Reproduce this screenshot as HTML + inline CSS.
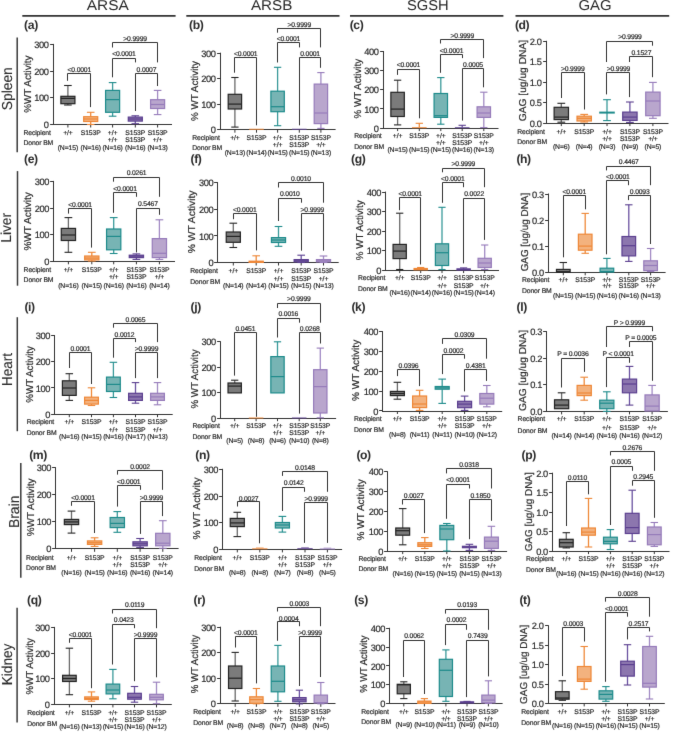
<!DOCTYPE html><html><head><meta charset="utf-8"><style>
html,body{margin:0;padding:0;background:#fff;}
svg{display:block;} text{font-family:"Liberation Sans",sans-serif;text-rendering:geometricPrecision;fill:#2b2b2b;stroke:#2b2b2b;stroke-width:0.2px;}
</style></head><body>
<svg width="685" height="734" viewBox="0 0 685 734">
<defs><filter id="bl" x="0" y="0" width="685" height="734" filterUnits="userSpaceOnUse" color-interpolation-filters="sRGB"><feConvolveMatrix order="3" kernelMatrix="0.00524 0.06192 0.00524 0.06192 0.73137 0.06192 0.00524 0.06192 0.00524" divisor="1" edgeMode="duplicate"/></filter></defs>
<g filter="url(#bl)">
<rect width="685" height="734" fill="#fff"/>
<text x="107.75" y="9.9" font-size="14.3" text-anchor="middle" textLength="42.1" lengthAdjust="spacingAndGlyphs" style="stroke-width:0.0px">ARSA</text>
<line x1="22.3" y1="15.9" x2="175.6" y2="15.9" stroke="#333333" stroke-width="1.9"/>
<text x="271.6" y="9.9" font-size="14.3" text-anchor="middle" textLength="41.4" lengthAdjust="spacingAndGlyphs" style="stroke-width:0.0px">ARSB</text>
<line x1="186.3" y1="15.9" x2="339.5" y2="15.9" stroke="#333333" stroke-width="1.9"/>
<text x="427.8" y="9.9" font-size="14.3" text-anchor="middle" textLength="41.8" lengthAdjust="spacingAndGlyphs" style="stroke-width:0.0px">SGSH</text>
<line x1="350" y1="15.9" x2="503.4" y2="15.9" stroke="#333333" stroke-width="1.9"/>
<text x="595" y="9.9" font-size="14.3" text-anchor="middle" textLength="33.2" lengthAdjust="spacingAndGlyphs" style="stroke-width:0.0px">GAG</text>
<line x1="515.5" y1="15.9" x2="669.2" y2="15.9" stroke="#333333" stroke-width="1.9"/>
<text transform="translate(11.7,88.75) rotate(-90)" x="0" y="0" font-size="14.4" text-anchor="middle" style="stroke-width:0.1px" textLength="43.1" lengthAdjust="spacingAndGlyphs">Spleen</text>
<line x1="17.2" y1="37.5" x2="17.2" y2="152.2" stroke="#3a3a3a" stroke-width="1.5"/>
<text transform="translate(10.6,227.85) rotate(-90)" x="0" y="0" font-size="14.4" text-anchor="middle" style="stroke-width:0.1px" textLength="29.7" lengthAdjust="spacingAndGlyphs">Liver</text>
<line x1="17.5" y1="171.1" x2="17.5" y2="285.7" stroke="#3a3a3a" stroke-width="1.5"/>
<text transform="translate(11.9,369.55) rotate(-90)" x="0" y="0" font-size="14.4" text-anchor="middle" style="stroke-width:0.1px" textLength="32.9" lengthAdjust="spacingAndGlyphs">Heart</text>
<line x1="17.3" y1="317.2" x2="17.3" y2="431.2" stroke="#3a3a3a" stroke-width="1.5"/>
<text transform="translate(18.8,511.85) rotate(-90)" x="0" y="0" font-size="14.4" text-anchor="middle" style="stroke-width:0.1px" textLength="32.5" lengthAdjust="spacingAndGlyphs">Brain</text>
<line x1="20.8" y1="463.1" x2="20.8" y2="577.7" stroke="#3a3a3a" stroke-width="1.5"/>
<text transform="translate(11.6,664.45) rotate(-90)" x="0" y="0" font-size="14.4" text-anchor="middle" style="stroke-width:0.1px" textLength="41.7" lengthAdjust="spacingAndGlyphs">Kidney</text>
<line x1="17.1" y1="607.8" x2="17.1" y2="722.5" stroke="#3a3a3a" stroke-width="1.5"/>
<text x="24.1" y="29.26" font-size="12.2" text-anchor="start" font-weight="bold" letter-spacing="-0.4" style="stroke-width:0.0px">(a)</text>
<line x1="53.5" y1="43.9" x2="53.5" y2="125" stroke="#333333" stroke-width="1.0"/>
<line x1="50.1" y1="44.5" x2="53.5" y2="44.5" stroke="#333333" stroke-width="1.0"/>
<text x="48.4" y="48" font-size="9.3" text-anchor="end" letter-spacing="-0.43">300</text>
<line x1="50.1" y1="71.5" x2="53.5" y2="71.5" stroke="#333333" stroke-width="1.0"/>
<text x="48.4" y="74.7" font-size="9.3" text-anchor="end" letter-spacing="-0.43">200</text>
<line x1="50.1" y1="97.5" x2="53.5" y2="97.5" stroke="#333333" stroke-width="1.0"/>
<text x="48.4" y="101.4" font-size="9.3" text-anchor="end" letter-spacing="-0.43">100</text>
<line x1="50.1" y1="124.5" x2="53.5" y2="124.5" stroke="#333333" stroke-width="1.0"/>
<text x="48.4" y="128.1" font-size="9.3" text-anchor="end" letter-spacing="-0.43">0</text>
<line x1="53" y1="124.5" x2="172" y2="124.5" stroke="#333333" stroke-width="1.0"/>
<line x1="67.9" y1="124.5" x2="67.9" y2="127.5" stroke="#333333" stroke-width="1.0"/>
<line x1="90.7" y1="124.5" x2="90.7" y2="127.5" stroke="#333333" stroke-width="1.0"/>
<line x1="112.6" y1="124.5" x2="112.6" y2="127.5" stroke="#333333" stroke-width="1.0"/>
<line x1="135.3" y1="124.5" x2="135.3" y2="127.5" stroke="#333333" stroke-width="1.0"/>
<line x1="157.6" y1="124.5" x2="157.6" y2="127.5" stroke="#333333" stroke-width="1.0"/>
<text transform="translate(31,84.1) rotate(-90)" x="0" y="0" font-size="10.0" text-anchor="middle" textLength="57.2" lengthAdjust="spacingAndGlyphs">%WT Activity</text>
<line x1="67.9" y1="85.5" x2="67.9" y2="96.3" stroke="#6a6a6a" stroke-width="1.3"/>
<line x1="64.09" y1="85.5" x2="71.71" y2="85.5" stroke="#232323" stroke-width="1.1"/>
<line x1="67.9" y1="103.7" x2="67.9" y2="105" stroke="#6a6a6a" stroke-width="1.3"/>
<line x1="64.09" y1="105" x2="71.71" y2="105" stroke="#232323" stroke-width="1.1"/>
<rect x="60.88" y="96.3" width="14.05" height="7.4" fill="#7b7b7b" stroke="#232323" stroke-width="1.2"/>
<line x1="60.88" y1="98.4" x2="74.92" y2="98.4" stroke="#232323" stroke-width="1.2"/>
<line x1="90.7" y1="112.3" x2="90.7" y2="116.7" stroke="#ef8a3a" stroke-width="1.3"/>
<line x1="86.89" y1="112.3" x2="94.51" y2="112.3" stroke="#ee8737" stroke-width="1.1"/>
<line x1="90.7" y1="121.5" x2="90.7" y2="124.5" stroke="#ef8a3a" stroke-width="1.3"/>
<line x1="86.89" y1="124.5" x2="94.51" y2="124.5" stroke="#ee8737" stroke-width="1.1"/>
<rect x="83.68" y="116.7" width="14.05" height="4.8" fill="#f3b27e" stroke="#ee8737" stroke-width="1.2"/>
<line x1="83.68" y1="119" x2="97.72" y2="119" stroke="#ee8737" stroke-width="1.2"/>
<line x1="112.6" y1="82.6" x2="112.6" y2="90.4" stroke="#3a9a9a" stroke-width="1.3"/>
<line x1="108.79" y1="82.6" x2="116.41" y2="82.6" stroke="#1d8b8b" stroke-width="1.1"/>
<line x1="112.6" y1="112.3" x2="112.6" y2="116.2" stroke="#3a9a9a" stroke-width="1.3"/>
<line x1="108.79" y1="116.2" x2="116.41" y2="116.2" stroke="#1d8b8b" stroke-width="1.1"/>
<rect x="105.58" y="90.4" width="14.05" height="21.9" fill="#77b4b4" stroke="#1d8b8b" stroke-width="1.2"/>
<line x1="105.58" y1="99.6" x2="119.62" y2="99.6" stroke="#1d8b8b" stroke-width="1.2"/>
<line x1="135.3" y1="115.8" x2="135.3" y2="117.1" stroke="#6a52a0" stroke-width="1.3"/>
<line x1="131.49" y1="115.8" x2="139.11" y2="115.8" stroke="#5b3f8f" stroke-width="1.1"/>
<line x1="135.3" y1="121.1" x2="135.3" y2="123.7" stroke="#6a52a0" stroke-width="1.3"/>
<line x1="131.49" y1="123.7" x2="139.11" y2="123.7" stroke="#5b3f8f" stroke-width="1.1"/>
<rect x="128.28" y="117.1" width="14.05" height="4" fill="#8c76ae" stroke="#5b3f8f" stroke-width="1.2"/>
<line x1="128.28" y1="119" x2="142.32" y2="119" stroke="#5b3f8f" stroke-width="1.2"/>
<line x1="157.6" y1="90.4" x2="157.6" y2="99.7" stroke="#a28bc4" stroke-width="1.3"/>
<line x1="153.79" y1="90.4" x2="161.41" y2="90.4" stroke="#967bba" stroke-width="1.1"/>
<line x1="157.6" y1="108.5" x2="157.6" y2="114.6" stroke="#a28bc4" stroke-width="1.3"/>
<line x1="153.79" y1="114.6" x2="161.41" y2="114.6" stroke="#967bba" stroke-width="1.1"/>
<rect x="150.58" y="99.7" width="14.05" height="8.8" fill="#b9a6cd" stroke="#967bba" stroke-width="1.2"/>
<line x1="150.58" y1="104.5" x2="164.62" y2="104.5" stroke="#967bba" stroke-width="1.2"/>
<path d="M67.5,80.8 V73.5 H90.5 V107.1" fill="none" stroke="#333333" stroke-width="1"/>
<text x="79.3" y="71.75" font-size="6.8" text-anchor="middle" letter-spacing="-0.17" style="stroke-width:0.2px">&lt;0.0001</text>
<path d="M112.5,77.3 V58.5 H135.5 V62.4" fill="none" stroke="#333333" stroke-width="1"/>
<text x="123.95" y="56.15" font-size="6.8" text-anchor="middle" letter-spacing="-0.17" style="stroke-width:0.2px">&lt;0.0001</text>
<path d="M135.5,111 V73.5 H157.5 V86" fill="none" stroke="#333333" stroke-width="1"/>
<text x="146.45" y="71.75" font-size="6.8" text-anchor="middle" letter-spacing="-0.17" style="stroke-width:0.2px">0.0007</text>
<path d="M112.5,47.5 V42.5 H157.5 V62.4" fill="none" stroke="#333333" stroke-width="1"/>
<text x="135.1" y="40.75" font-size="6.8" text-anchor="middle" letter-spacing="-0.17" style="stroke-width:0.2px">&gt;0.9999</text>
<text x="23.4" y="134.8" font-size="6.8" text-anchor="start" letter-spacing="-0.1" style="stroke-width:0.2px">Recipient</text>
<text x="23.4" y="144.9" font-size="6.8" text-anchor="start" letter-spacing="-0.1" style="stroke-width:0.2px">Donor BM</text>
<text x="67.9" y="134.8" font-size="6.8" text-anchor="middle" letter-spacing="-0.1" style="stroke-width:0.2px">+/+</text>
<text x="67.9" y="149.5" font-size="6.8" text-anchor="middle" letter-spacing="-0.1" style="stroke-width:0.2px">(N=15)</text>
<text x="90.7" y="134.8" font-size="6.8" text-anchor="middle" letter-spacing="-0.1" style="stroke-width:0.2px">S153P</text>
<text x="90.7" y="149.5" font-size="6.8" text-anchor="middle" letter-spacing="-0.1" style="stroke-width:0.2px">(N=16)</text>
<text x="112.6" y="134.8" font-size="6.8" text-anchor="middle" letter-spacing="-0.1" style="stroke-width:0.2px">+/+</text>
<text x="112.6" y="142" font-size="6.8" text-anchor="middle" letter-spacing="-0.1" style="stroke-width:0.2px">+/+</text>
<text x="112.6" y="149.5" font-size="6.8" text-anchor="middle" letter-spacing="-0.1" style="stroke-width:0.2px">(N=16)</text>
<text x="135.3" y="134.8" font-size="6.8" text-anchor="middle" letter-spacing="-0.1" style="stroke-width:0.2px">S153P</text>
<text x="135.3" y="142" font-size="6.8" text-anchor="middle" letter-spacing="-0.1" style="stroke-width:0.2px">S153P</text>
<text x="135.3" y="149.5" font-size="6.8" text-anchor="middle" letter-spacing="-0.1" style="stroke-width:0.2px">(N=16)</text>
<text x="157.6" y="134.8" font-size="6.8" text-anchor="middle" letter-spacing="-0.1" style="stroke-width:0.2px">S153P</text>
<text x="157.6" y="142" font-size="6.8" text-anchor="middle" letter-spacing="-0.1" style="stroke-width:0.2px">+/+</text>
<text x="157.6" y="149.5" font-size="6.8" text-anchor="middle" letter-spacing="-0.1" style="stroke-width:0.2px">(N=13)</text>
<text x="189.1" y="29.26" font-size="12.2" text-anchor="start" font-weight="bold" letter-spacing="-0.4" style="stroke-width:0.0px">(b)</text>
<line x1="220.5" y1="52.7" x2="220.5" y2="130" stroke="#333333" stroke-width="1.0"/>
<line x1="217.1" y1="53.5" x2="220.5" y2="53.5" stroke="#333333" stroke-width="1.0"/>
<text x="215.6" y="56.8" font-size="9.3" text-anchor="end" letter-spacing="-0.43">300</text>
<line x1="217.1" y1="78.5" x2="220.5" y2="78.5" stroke="#333333" stroke-width="1.0"/>
<text x="215.6" y="82.3" font-size="9.3" text-anchor="end" letter-spacing="-0.43">200</text>
<line x1="217.1" y1="104.5" x2="220.5" y2="104.5" stroke="#333333" stroke-width="1.0"/>
<text x="215.6" y="107.8" font-size="9.3" text-anchor="end" letter-spacing="-0.43">100</text>
<line x1="217.1" y1="129.5" x2="220.5" y2="129.5" stroke="#333333" stroke-width="1.0"/>
<text x="215.6" y="133.3" font-size="9.3" text-anchor="end" letter-spacing="-0.43">0</text>
<line x1="220" y1="129.5" x2="335.6" y2="129.5" stroke="#333333" stroke-width="1.0"/>
<line x1="234.9" y1="129.7" x2="234.9" y2="132.7" stroke="#333333" stroke-width="1.0"/>
<line x1="256.5" y1="129.7" x2="256.5" y2="132.7" stroke="#333333" stroke-width="1.0"/>
<line x1="277.6" y1="129.7" x2="277.6" y2="132.7" stroke="#333333" stroke-width="1.0"/>
<line x1="299.3" y1="129.7" x2="299.3" y2="132.7" stroke="#333333" stroke-width="1.0"/>
<line x1="320.9" y1="129.7" x2="320.9" y2="132.7" stroke="#333333" stroke-width="1.0"/>
<text transform="translate(197.9,91) rotate(-90)" x="0" y="0" font-size="10.0" text-anchor="middle" textLength="60" lengthAdjust="spacingAndGlyphs">% WT Activity</text>
<line x1="234.9" y1="77.5" x2="234.9" y2="94.3" stroke="#6a6a6a" stroke-width="1.3"/>
<line x1="231.25" y1="77.5" x2="238.56" y2="77.5" stroke="#232323" stroke-width="1.1"/>
<line x1="234.9" y1="109" x2="234.9" y2="127.1" stroke="#6a6a6a" stroke-width="1.3"/>
<line x1="231.25" y1="127.1" x2="238.56" y2="127.1" stroke="#232323" stroke-width="1.1"/>
<rect x="228.19" y="94.3" width="13.42" height="14.7" fill="#7b7b7b" stroke="#232323" stroke-width="1.2"/>
<line x1="228.19" y1="104.1" x2="241.61" y2="104.1" stroke="#232323" stroke-width="1.2"/>
<rect x="249.19" y="128.7" width="14.62" height="1.2" fill="#ee8737" opacity="0.8"/>
<line x1="277.6" y1="67.3" x2="277.6" y2="91.2" stroke="#3a9a9a" stroke-width="1.3"/>
<line x1="273.95" y1="67.3" x2="281.25" y2="67.3" stroke="#1d8b8b" stroke-width="1.1"/>
<line x1="277.6" y1="111.7" x2="277.6" y2="125.7" stroke="#3a9a9a" stroke-width="1.3"/>
<line x1="273.95" y1="125.7" x2="281.25" y2="125.7" stroke="#1d8b8b" stroke-width="1.1"/>
<rect x="270.89" y="91.2" width="13.42" height="20.5" fill="#77b4b4" stroke="#1d8b8b" stroke-width="1.2"/>
<line x1="270.89" y1="106.7" x2="284.31" y2="106.7" stroke="#1d8b8b" stroke-width="1.2"/>
<rect x="291.99" y="128.7" width="14.62" height="1.2" fill="#5b3f8f" opacity="0.8"/>
<line x1="320.9" y1="72.6" x2="320.9" y2="84.1" stroke="#a28bc4" stroke-width="1.3"/>
<line x1="317.25" y1="72.6" x2="324.55" y2="72.6" stroke="#967bba" stroke-width="1.1"/>
<line x1="320.9" y1="123.6" x2="320.9" y2="128.4" stroke="#a28bc4" stroke-width="1.3"/>
<line x1="317.25" y1="128.4" x2="324.55" y2="128.4" stroke="#967bba" stroke-width="1.1"/>
<rect x="314.19" y="84.1" width="13.42" height="39.5" fill="#b9a6cd" stroke="#967bba" stroke-width="1.2"/>
<line x1="314.19" y1="113" x2="327.61" y2="113" stroke="#967bba" stroke-width="1.2"/>
<path d="M234.5,72.7 V57.5 H256.5 V125.3" fill="none" stroke="#333333" stroke-width="1"/>
<text x="245.7" y="56.45" font-size="6.8" text-anchor="middle" letter-spacing="-0.17" style="stroke-width:0.2px">&lt;0.0001</text>
<path d="M277.5,62.5 V42.5 H299.5 V47.4" fill="none" stroke="#333333" stroke-width="1"/>
<text x="288.45" y="41.45" font-size="6.8" text-anchor="middle" letter-spacing="-0.17" style="stroke-width:0.2px">&lt;0.0001</text>
<path d="M299.5,125.3 V57.5 H320.5 V67.8" fill="none" stroke="#333333" stroke-width="1"/>
<text x="310.1" y="56.15" font-size="6.8" text-anchor="middle" letter-spacing="-0.17" style="stroke-width:0.2px">0.0001</text>
<path d="M277.5,32.7 V28.5 H320.5 V47.4" fill="none" stroke="#333333" stroke-width="1"/>
<text x="299.25" y="26.75" font-size="6.8" text-anchor="middle" letter-spacing="-0.17" style="stroke-width:0.2px">&gt;0.9999</text>
<text x="192.3" y="139.5" font-size="6.8" text-anchor="start" letter-spacing="-0.1" style="stroke-width:0.2px">Recipient</text>
<text x="192.3" y="149.9" font-size="6.8" text-anchor="start" letter-spacing="-0.1" style="stroke-width:0.2px">Donor BM</text>
<text x="234.9" y="139.5" font-size="6.8" text-anchor="middle" letter-spacing="-0.1" style="stroke-width:0.2px">+/+</text>
<text x="234.9" y="155.3" font-size="6.8" text-anchor="middle" letter-spacing="-0.1" style="stroke-width:0.2px">(N=13)</text>
<text x="256.5" y="139.5" font-size="6.8" text-anchor="middle" letter-spacing="-0.1" style="stroke-width:0.2px">S153P</text>
<text x="256.5" y="155.3" font-size="6.8" text-anchor="middle" letter-spacing="-0.1" style="stroke-width:0.2px">(N=14)</text>
<text x="277.6" y="139.5" font-size="6.8" text-anchor="middle" letter-spacing="-0.1" style="stroke-width:0.2px">+/+</text>
<text x="277.6" y="147" font-size="6.8" text-anchor="middle" letter-spacing="-0.1" style="stroke-width:0.2px">+/+</text>
<text x="277.6" y="155.3" font-size="6.8" text-anchor="middle" letter-spacing="-0.1" style="stroke-width:0.2px">(N=15)</text>
<text x="299.3" y="139.5" font-size="6.8" text-anchor="middle" letter-spacing="-0.1" style="stroke-width:0.2px">S153P</text>
<text x="299.3" y="147" font-size="6.8" text-anchor="middle" letter-spacing="-0.1" style="stroke-width:0.2px">S153P</text>
<text x="299.3" y="155.3" font-size="6.8" text-anchor="middle" letter-spacing="-0.1" style="stroke-width:0.2px">(N=15)</text>
<text x="320.9" y="139.5" font-size="6.8" text-anchor="middle" letter-spacing="-0.1" style="stroke-width:0.2px">S153P</text>
<text x="320.9" y="147" font-size="6.8" text-anchor="middle" letter-spacing="-0.1" style="stroke-width:0.2px">+/+</text>
<text x="320.9" y="155.3" font-size="6.8" text-anchor="middle" letter-spacing="-0.1" style="stroke-width:0.2px">(N=13)</text>
<text x="349.7" y="29.16" font-size="12.2" text-anchor="start" font-weight="bold" letter-spacing="-0.4" style="stroke-width:0.0px">(c)</text>
<line x1="383.5" y1="51" x2="383.5" y2="129" stroke="#333333" stroke-width="1.0"/>
<line x1="380.1" y1="51.5" x2="383.5" y2="51.5" stroke="#333333" stroke-width="1.0"/>
<text x="378.5" y="55.1" font-size="9.3" text-anchor="end" letter-spacing="-0.43">400</text>
<line x1="380.1" y1="70.5" x2="383.5" y2="70.5" stroke="#333333" stroke-width="1.0"/>
<text x="378.5" y="74.3" font-size="9.3" text-anchor="end" letter-spacing="-0.43">300</text>
<line x1="380.1" y1="89.5" x2="383.5" y2="89.5" stroke="#333333" stroke-width="1.0"/>
<text x="378.5" y="93.4" font-size="9.3" text-anchor="end" letter-spacing="-0.43">200</text>
<line x1="380.1" y1="108.5" x2="383.5" y2="108.5" stroke="#333333" stroke-width="1.0"/>
<text x="378.5" y="112.6" font-size="9.3" text-anchor="end" letter-spacing="-0.43">100</text>
<line x1="380.1" y1="128.5" x2="383.5" y2="128.5" stroke="#333333" stroke-width="1.0"/>
<text x="378.5" y="131.7" font-size="9.3" text-anchor="end" letter-spacing="-0.43">0</text>
<line x1="383" y1="128.5" x2="498.5" y2="128.5" stroke="#333333" stroke-width="1.0"/>
<line x1="397.6" y1="128.1" x2="397.6" y2="131.1" stroke="#333333" stroke-width="1.0"/>
<line x1="419.3" y1="128.1" x2="419.3" y2="131.1" stroke="#333333" stroke-width="1.0"/>
<line x1="440.8" y1="128.1" x2="440.8" y2="131.1" stroke="#333333" stroke-width="1.0"/>
<line x1="462.2" y1="128.1" x2="462.2" y2="131.1" stroke="#333333" stroke-width="1.0"/>
<line x1="483.8" y1="128.1" x2="483.8" y2="131.1" stroke="#333333" stroke-width="1.0"/>
<text transform="translate(361.1,88.7) rotate(-90)" x="0" y="0" font-size="10.0" text-anchor="middle" textLength="59.5" lengthAdjust="spacingAndGlyphs">% WT Activity</text>
<line x1="397.6" y1="80.2" x2="397.6" y2="92.3" stroke="#6a6a6a" stroke-width="1.3"/>
<line x1="393.94" y1="80.2" x2="401.26" y2="80.2" stroke="#232323" stroke-width="1.1"/>
<line x1="397.6" y1="116.5" x2="397.6" y2="124.9" stroke="#6a6a6a" stroke-width="1.3"/>
<line x1="393.94" y1="124.9" x2="401.26" y2="124.9" stroke="#232323" stroke-width="1.1"/>
<rect x="390.87" y="92.3" width="13.45" height="24.2" fill="#7b7b7b" stroke="#232323" stroke-width="1.2"/>
<line x1="390.87" y1="109.1" x2="404.33" y2="109.1" stroke="#232323" stroke-width="1.2"/>
<line x1="419.3" y1="123.3" x2="419.3" y2="127.3" stroke="#ef8a3a" stroke-width="1.3"/>
<line x1="415.64" y1="123.3" x2="422.96" y2="123.3" stroke="#ee8737" stroke-width="1.1"/>
<rect x="411.97" y="127.05" width="14.65" height="1.2" fill="#ee8737" opacity="0.85"/>
<line x1="440.8" y1="77.6" x2="440.8" y2="93.5" stroke="#3a9a9a" stroke-width="1.3"/>
<line x1="437.14" y1="77.6" x2="444.46" y2="77.6" stroke="#1d8b8b" stroke-width="1.1"/>
<line x1="440.8" y1="117.4" x2="440.8" y2="124.2" stroke="#3a9a9a" stroke-width="1.3"/>
<line x1="437.14" y1="124.2" x2="444.46" y2="124.2" stroke="#1d8b8b" stroke-width="1.1"/>
<rect x="434.07" y="93.5" width="13.45" height="23.9" fill="#77b4b4" stroke="#1d8b8b" stroke-width="1.2"/>
<line x1="434.07" y1="115.7" x2="447.53" y2="115.7" stroke="#1d8b8b" stroke-width="1.2"/>
<line x1="462.2" y1="125.3" x2="462.2" y2="127.4" stroke="#6a52a0" stroke-width="1.3"/>
<line x1="458.54" y1="125.3" x2="465.86" y2="125.3" stroke="#5b3f8f" stroke-width="1.1"/>
<rect x="454.87" y="127.1" width="14.65" height="1.2" fill="#5b3f8f" opacity="0.85"/>
<line x1="483.8" y1="92.2" x2="483.8" y2="106.8" stroke="#a28bc4" stroke-width="1.3"/>
<line x1="480.14" y1="92.2" x2="487.46" y2="92.2" stroke="#967bba" stroke-width="1.1"/>
<line x1="483.8" y1="117.4" x2="483.8" y2="127.6" stroke="#a28bc4" stroke-width="1.3"/>
<line x1="480.14" y1="127.6" x2="487.46" y2="127.6" stroke="#967bba" stroke-width="1.1"/>
<rect x="477.07" y="106.8" width="13.45" height="10.6" fill="#b9a6cd" stroke="#967bba" stroke-width="1.2"/>
<line x1="477.07" y1="113" x2="490.53" y2="113" stroke="#967bba" stroke-width="1.2"/>
<path d="M397.5,74.9 V69.5 H419.5 V118.3" fill="none" stroke="#333333" stroke-width="1"/>
<text x="408.45" y="67.45" font-size="6.8" text-anchor="middle" letter-spacing="-0.17" style="stroke-width:0.2px">&lt;0.0001</text>
<path d="M440.5,72.8 V54.5 H462.5 V58.1" fill="none" stroke="#333333" stroke-width="1"/>
<text x="451.5" y="52.55" font-size="6.8" text-anchor="middle" letter-spacing="-0.17" style="stroke-width:0.2px">&lt;0.0001</text>
<path d="M462.5,120.6 V68.5 H483.5 V87.3" fill="none" stroke="#333333" stroke-width="1"/>
<text x="473" y="67.45" font-size="6.8" text-anchor="middle" letter-spacing="-0.17" style="stroke-width:0.2px">0.0005</text>
<path d="M440.5,43.5 V39.5 H483.5 V58.1" fill="none" stroke="#333333" stroke-width="1"/>
<text x="462.3" y="37.85" font-size="6.8" text-anchor="middle" letter-spacing="-0.17" style="stroke-width:0.2px">&gt;0.9999</text>
<text x="354.2" y="137.8" font-size="6.8" text-anchor="start" letter-spacing="-0.1" style="stroke-width:0.2px">Recipient</text>
<text x="354.2" y="148.5" font-size="6.8" text-anchor="start" letter-spacing="-0.1" style="stroke-width:0.2px">Donor BM</text>
<text x="397.6" y="137.8" font-size="6.8" text-anchor="middle" letter-spacing="-0.1" style="stroke-width:0.2px">+/+</text>
<text x="397.6" y="151.8" font-size="6.8" text-anchor="middle" letter-spacing="-0.1" style="stroke-width:0.2px">(N=15)</text>
<text x="419.3" y="137.8" font-size="6.8" text-anchor="middle" letter-spacing="-0.1" style="stroke-width:0.2px">S153P</text>
<text x="419.3" y="151.8" font-size="6.8" text-anchor="middle" letter-spacing="-0.1" style="stroke-width:0.2px">(N=15)</text>
<text x="440.8" y="137.8" font-size="6.8" text-anchor="middle" letter-spacing="-0.1" style="stroke-width:0.2px">+/+</text>
<text x="440.8" y="144.8" font-size="6.8" text-anchor="middle" letter-spacing="-0.1" style="stroke-width:0.2px">+/+</text>
<text x="440.8" y="151.8" font-size="6.8" text-anchor="middle" letter-spacing="-0.1" style="stroke-width:0.2px">(N=15)</text>
<text x="462.2" y="137.8" font-size="6.8" text-anchor="middle" letter-spacing="-0.1" style="stroke-width:0.2px">S153P</text>
<text x="462.2" y="144.8" font-size="6.8" text-anchor="middle" letter-spacing="-0.1" style="stroke-width:0.2px">S153P</text>
<text x="462.2" y="151.8" font-size="6.8" text-anchor="middle" letter-spacing="-0.1" style="stroke-width:0.2px">(N=16)</text>
<text x="483.8" y="137.8" font-size="6.8" text-anchor="middle" letter-spacing="-0.1" style="stroke-width:0.2px">S153P</text>
<text x="483.8" y="144.8" font-size="6.8" text-anchor="middle" letter-spacing="-0.1" style="stroke-width:0.2px">+/+</text>
<text x="483.8" y="151.8" font-size="6.8" text-anchor="middle" letter-spacing="-0.1" style="stroke-width:0.2px">(N=13)</text>
<text x="514.9" y="29.16" font-size="12.2" text-anchor="start" font-weight="bold" letter-spacing="-0.4" style="stroke-width:0.0px">(d)</text>
<line x1="546.5" y1="40.8" x2="546.5" y2="124" stroke="#333333" stroke-width="1.0"/>
<line x1="543.1" y1="41.5" x2="546.5" y2="41.5" stroke="#333333" stroke-width="1.0"/>
<text x="541.5" y="44.9" font-size="9.3" text-anchor="end" letter-spacing="-0.43">2.0</text>
<line x1="543.1" y1="61.5" x2="546.5" y2="61.5" stroke="#333333" stroke-width="1.0"/>
<text x="541.5" y="65.4" font-size="9.3" text-anchor="end" letter-spacing="-0.43">1.5</text>
<line x1="543.1" y1="82.5" x2="546.5" y2="82.5" stroke="#333333" stroke-width="1.0"/>
<text x="541.5" y="85.8" font-size="9.3" text-anchor="end" letter-spacing="-0.43">1.0</text>
<line x1="543.1" y1="102.5" x2="546.5" y2="102.5" stroke="#333333" stroke-width="1.0"/>
<text x="541.5" y="106.3" font-size="9.3" text-anchor="end" letter-spacing="-0.43">0.5</text>
<line x1="543.1" y1="123.5" x2="546.5" y2="123.5" stroke="#333333" stroke-width="1.0"/>
<text x="541.5" y="126.7" font-size="9.3" text-anchor="end" letter-spacing="-0.43">0.0</text>
<line x1="546" y1="123.5" x2="668.5" y2="123.5" stroke="#333333" stroke-width="1.0"/>
<line x1="561.3" y1="123.1" x2="561.3" y2="126.1" stroke="#333333" stroke-width="1.0"/>
<line x1="584.2" y1="123.1" x2="584.2" y2="126.1" stroke="#333333" stroke-width="1.0"/>
<line x1="607" y1="123.1" x2="607" y2="126.1" stroke="#333333" stroke-width="1.0"/>
<line x1="629.9" y1="123.1" x2="629.9" y2="126.1" stroke="#333333" stroke-width="1.0"/>
<line x1="652.9" y1="123.1" x2="652.9" y2="126.1" stroke="#333333" stroke-width="1.0"/>
<text transform="translate(525.5,80.6) rotate(-90)" x="0" y="0" font-size="10.0" text-anchor="middle" textLength="81.5" lengthAdjust="spacingAndGlyphs">GAG [ug/ug DNA]</text>
<line x1="561.3" y1="103.3" x2="561.3" y2="107.3" stroke="#6a6a6a" stroke-width="1.3"/>
<line x1="557.41" y1="103.3" x2="565.19" y2="103.3" stroke="#232323" stroke-width="1.1"/>
<line x1="561.3" y1="119.6" x2="561.3" y2="122.2" stroke="#6a6a6a" stroke-width="1.3"/>
<line x1="557.41" y1="122.2" x2="565.19" y2="122.2" stroke="#232323" stroke-width="1.1"/>
<rect x="554.11" y="107.3" width="14.37" height="12.3" fill="#7b7b7b" stroke="#232323" stroke-width="1.2"/>
<line x1="554.11" y1="117.1" x2="568.49" y2="117.1" stroke="#232323" stroke-width="1.2"/>
<line x1="584.2" y1="114.4" x2="584.2" y2="116.2" stroke="#ef8a3a" stroke-width="1.3"/>
<line x1="580.31" y1="114.4" x2="588.09" y2="114.4" stroke="#ee8737" stroke-width="1.1"/>
<line x1="584.2" y1="121" x2="584.2" y2="122" stroke="#ef8a3a" stroke-width="1.3"/>
<line x1="580.31" y1="122" x2="588.09" y2="122" stroke="#ee8737" stroke-width="1.1"/>
<rect x="577.01" y="116.2" width="14.37" height="4.8" fill="#f3b27e" stroke="#ee8737" stroke-width="1.2"/>
<line x1="577.01" y1="118.3" x2="591.39" y2="118.3" stroke="#ee8737" stroke-width="1.2"/>
<line x1="607" y1="99.7" x2="607" y2="112.6" stroke="#3a9a9a" stroke-width="1.3"/>
<line x1="603.11" y1="99.7" x2="610.89" y2="99.7" stroke="#1d8b8b" stroke-width="1.1"/>
<line x1="607" y1="112.6" x2="607" y2="120.6" stroke="#3a9a9a" stroke-width="1.3"/>
<line x1="603.11" y1="120.6" x2="610.89" y2="120.6" stroke="#1d8b8b" stroke-width="1.1"/>
<line x1="599.21" y1="112.6" x2="614.79" y2="112.6" stroke="#1d8b8b" stroke-width="2.0"/>
<line x1="629.9" y1="102" x2="629.9" y2="112.1" stroke="#6a52a0" stroke-width="1.3"/>
<line x1="626.01" y1="102" x2="633.79" y2="102" stroke="#5b3f8f" stroke-width="1.1"/>
<line x1="629.9" y1="120.4" x2="629.9" y2="122.4" stroke="#6a52a0" stroke-width="1.3"/>
<line x1="626.01" y1="122.4" x2="633.79" y2="122.4" stroke="#5b3f8f" stroke-width="1.1"/>
<rect x="622.71" y="112.1" width="14.37" height="8.3" fill="#8c76ae" stroke="#5b3f8f" stroke-width="1.2"/>
<line x1="622.71" y1="117.1" x2="637.09" y2="117.1" stroke="#5b3f8f" stroke-width="1.2"/>
<line x1="652.9" y1="82.4" x2="652.9" y2="92.1" stroke="#a28bc4" stroke-width="1.3"/>
<line x1="649.01" y1="82.4" x2="656.79" y2="82.4" stroke="#967bba" stroke-width="1.1"/>
<line x1="652.9" y1="115.7" x2="652.9" y2="118.3" stroke="#a28bc4" stroke-width="1.3"/>
<line x1="649.01" y1="118.3" x2="656.79" y2="118.3" stroke="#967bba" stroke-width="1.1"/>
<rect x="645.71" y="92.1" width="14.37" height="23.6" fill="#b9a6cd" stroke="#967bba" stroke-width="1.2"/>
<line x1="645.71" y1="101" x2="660.09" y2="101" stroke="#967bba" stroke-width="1.2"/>
<path d="M561.5,98 V72.5 H584.5 V109.5" fill="none" stroke="#333333" stroke-width="1"/>
<text x="572.75" y="71.05" font-size="6.8" text-anchor="middle" letter-spacing="-0.17" style="stroke-width:0.2px">&gt;0.9999</text>
<path d="M606.5,94.4 V72.5 H629.5 V97.1" fill="none" stroke="#333333" stroke-width="1"/>
<text x="618.45" y="71.05" font-size="6.8" text-anchor="middle" letter-spacing="-0.17" style="stroke-width:0.2px">&gt;0.9999</text>
<path d="M629.5,62 V56.5 H652.5 V77.2" fill="none" stroke="#333333" stroke-width="1"/>
<text x="641.4" y="55.25" font-size="6.8" text-anchor="middle" letter-spacing="-0.17" style="stroke-width:0.2px">0.1527</text>
<path d="M606.5,62 V41.5 H652.5 V45.7" fill="none" stroke="#333333" stroke-width="1"/>
<text x="629.95" y="39.35" font-size="6.8" text-anchor="middle" letter-spacing="-0.17" style="stroke-width:0.2px">&gt;0.9999</text>
<text x="517.3" y="133.5" font-size="6.8" text-anchor="start" letter-spacing="-0.1" style="stroke-width:0.2px">Recipient</text>
<text x="517.3" y="144.2" font-size="6.8" text-anchor="start" letter-spacing="-0.1" style="stroke-width:0.2px">Donor BM</text>
<text x="561.3" y="133.5" font-size="6.8" text-anchor="middle" letter-spacing="-0.1" style="stroke-width:0.2px">+/+</text>
<text x="561.3" y="149" font-size="6.8" text-anchor="middle" letter-spacing="-0.1" style="stroke-width:0.2px">(N=6)</text>
<text x="584.2" y="133.5" font-size="6.8" text-anchor="middle" letter-spacing="-0.1" style="stroke-width:0.2px">S153P</text>
<text x="584.2" y="149" font-size="6.8" text-anchor="middle" letter-spacing="-0.1" style="stroke-width:0.2px">(N=4)</text>
<text x="607" y="133.5" font-size="6.8" text-anchor="middle" letter-spacing="-0.1" style="stroke-width:0.2px">+/+</text>
<text x="607" y="141" font-size="6.8" text-anchor="middle" letter-spacing="-0.1" style="stroke-width:0.2px">+/+</text>
<text x="607" y="149" font-size="6.8" text-anchor="middle" letter-spacing="-0.1" style="stroke-width:0.2px">(N=3)</text>
<text x="629.9" y="133.5" font-size="6.8" text-anchor="middle" letter-spacing="-0.1" style="stroke-width:0.2px">S153P</text>
<text x="629.9" y="141" font-size="6.8" text-anchor="middle" letter-spacing="-0.1" style="stroke-width:0.2px">S153P</text>
<text x="629.9" y="149" font-size="6.8" text-anchor="middle" letter-spacing="-0.1" style="stroke-width:0.2px">(N=9)</text>
<text x="652.9" y="133.5" font-size="6.8" text-anchor="middle" letter-spacing="-0.1" style="stroke-width:0.2px">S153P</text>
<text x="652.9" y="141" font-size="6.8" text-anchor="middle" letter-spacing="-0.1" style="stroke-width:0.2px">+/+</text>
<text x="652.9" y="149" font-size="6.8" text-anchor="middle" letter-spacing="-0.1" style="stroke-width:0.2px">(N=5)</text>
<text x="24" y="163.46" font-size="12.2" text-anchor="start" font-weight="bold" letter-spacing="-0.4" style="stroke-width:0.0px">(e)</text>
<line x1="53.5" y1="180.9" x2="53.5" y2="262" stroke="#333333" stroke-width="1.0"/>
<line x1="50.1" y1="181.5" x2="53.5" y2="181.5" stroke="#333333" stroke-width="1.0"/>
<text x="49" y="185" font-size="9.3" text-anchor="end" letter-spacing="-0.43">300</text>
<line x1="50.1" y1="208.5" x2="53.5" y2="208.5" stroke="#333333" stroke-width="1.0"/>
<text x="49" y="211.6" font-size="9.3" text-anchor="end" letter-spacing="-0.43">200</text>
<line x1="50.1" y1="234.5" x2="53.5" y2="234.5" stroke="#333333" stroke-width="1.0"/>
<text x="49" y="238.2" font-size="9.3" text-anchor="end" letter-spacing="-0.43">100</text>
<line x1="50.1" y1="261.5" x2="53.5" y2="261.5" stroke="#333333" stroke-width="1.0"/>
<text x="49" y="264.9" font-size="9.3" text-anchor="end" letter-spacing="-0.43">0</text>
<line x1="53" y1="261.5" x2="175" y2="261.5" stroke="#333333" stroke-width="1.0"/>
<line x1="68.4" y1="261.3" x2="68.4" y2="264.3" stroke="#333333" stroke-width="1.0"/>
<line x1="91.8" y1="261.3" x2="91.8" y2="264.3" stroke="#333333" stroke-width="1.0"/>
<line x1="113.7" y1="261.3" x2="113.7" y2="264.3" stroke="#333333" stroke-width="1.0"/>
<line x1="136.4" y1="261.3" x2="136.4" y2="264.3" stroke="#333333" stroke-width="1.0"/>
<line x1="159.4" y1="261.3" x2="159.4" y2="264.3" stroke="#333333" stroke-width="1.0"/>
<text transform="translate(31.4,221.4) rotate(-90)" x="0" y="0" font-size="10.0" text-anchor="middle" textLength="58.4" lengthAdjust="spacingAndGlyphs">%WT Activity</text>
<line x1="68.4" y1="217.6" x2="68.4" y2="228.4" stroke="#6a6a6a" stroke-width="1.3"/>
<line x1="64.53" y1="217.6" x2="72.27" y2="217.6" stroke="#232323" stroke-width="1.1"/>
<line x1="68.4" y1="240.5" x2="68.4" y2="252.3" stroke="#6a6a6a" stroke-width="1.3"/>
<line x1="64.53" y1="252.3" x2="72.27" y2="252.3" stroke="#232323" stroke-width="1.1"/>
<rect x="61.27" y="228.4" width="14.27" height="12.1" fill="#7b7b7b" stroke="#232323" stroke-width="1.2"/>
<line x1="61.27" y1="235" x2="75.54" y2="235" stroke="#232323" stroke-width="1.2"/>
<line x1="91.8" y1="252.3" x2="91.8" y2="256" stroke="#ef8a3a" stroke-width="1.3"/>
<line x1="87.93" y1="252.3" x2="95.67" y2="252.3" stroke="#ee8737" stroke-width="1.1"/>
<line x1="91.8" y1="259.9" x2="91.8" y2="261" stroke="#ef8a3a" stroke-width="1.3"/>
<line x1="87.93" y1="261" x2="95.67" y2="261" stroke="#ee8737" stroke-width="1.1"/>
<rect x="84.66" y="256" width="14.27" height="3.9" fill="#f3b27e" stroke="#ee8737" stroke-width="1.2"/>
<line x1="84.66" y1="258.1" x2="98.94" y2="258.1" stroke="#ee8737" stroke-width="1.2"/>
<line x1="113.7" y1="217.6" x2="113.7" y2="229" stroke="#3a9a9a" stroke-width="1.3"/>
<line x1="109.83" y1="217.6" x2="117.57" y2="217.6" stroke="#1d8b8b" stroke-width="1.1"/>
<line x1="113.7" y1="249.8" x2="113.7" y2="253.5" stroke="#3a9a9a" stroke-width="1.3"/>
<line x1="109.83" y1="253.5" x2="117.57" y2="253.5" stroke="#1d8b8b" stroke-width="1.1"/>
<rect x="106.56" y="229" width="14.27" height="20.8" fill="#77b4b4" stroke="#1d8b8b" stroke-width="1.2"/>
<line x1="106.56" y1="236.4" x2="120.84" y2="236.4" stroke="#1d8b8b" stroke-width="1.2"/>
<line x1="136.4" y1="253.9" x2="136.4" y2="255.2" stroke="#6a52a0" stroke-width="1.3"/>
<line x1="132.53" y1="253.9" x2="140.27" y2="253.9" stroke="#5b3f8f" stroke-width="1.1"/>
<line x1="136.4" y1="257.6" x2="136.4" y2="259.4" stroke="#6a52a0" stroke-width="1.3"/>
<line x1="132.53" y1="259.4" x2="140.27" y2="259.4" stroke="#5b3f8f" stroke-width="1.1"/>
<rect x="129.26" y="255.2" width="14.27" height="2.4" fill="#8c76ae" stroke="#5b3f8f" stroke-width="1.2"/>
<line x1="129.26" y1="256.1" x2="143.54" y2="256.1" stroke="#5b3f8f" stroke-width="1.2"/>
<line x1="159.4" y1="219.8" x2="159.4" y2="238.6" stroke="#a28bc4" stroke-width="1.3"/>
<line x1="155.53" y1="219.8" x2="163.27" y2="219.8" stroke="#967bba" stroke-width="1.1"/>
<line x1="159.4" y1="257.6" x2="159.4" y2="259.4" stroke="#a28bc4" stroke-width="1.3"/>
<line x1="155.53" y1="259.4" x2="163.27" y2="259.4" stroke="#967bba" stroke-width="1.1"/>
<rect x="152.26" y="238.6" width="14.27" height="19" fill="#b9a6cd" stroke="#967bba" stroke-width="1.2"/>
<line x1="152.26" y1="253.3" x2="166.54" y2="253.3" stroke="#967bba" stroke-width="1.2"/>
<path d="M68.5,213.6 V208.5 H91.5 V247.6" fill="none" stroke="#333333" stroke-width="1"/>
<text x="80.1" y="206.55" font-size="6.8" text-anchor="middle" letter-spacing="-0.17" style="stroke-width:0.2px">&lt;0.0001</text>
<path d="M113.5,212.8 V192.5 H136.5 V196.8" fill="none" stroke="#333333" stroke-width="1"/>
<text x="125.05" y="190.85" font-size="6.8" text-anchor="middle" letter-spacing="-0.17" style="stroke-width:0.2px">&lt;0.0001</text>
<path d="M136.5,252.4 V208.5 H159.5 V214.8" fill="none" stroke="#333333" stroke-width="1"/>
<text x="147.9" y="206.45" font-size="6.8" text-anchor="middle" letter-spacing="-0.17" style="stroke-width:0.2px">0.5467</text>
<path d="M113.5,181.7 V177.5 H159.5 V196.8" fill="none" stroke="#333333" stroke-width="1"/>
<text x="136.55" y="175.35" font-size="6.8" text-anchor="middle" letter-spacing="-0.17" style="stroke-width:0.2px">0.0261</text>
<text x="23.6" y="272.2" font-size="6.8" text-anchor="start" letter-spacing="-0.1" style="stroke-width:0.2px">Recipient</text>
<text x="23.6" y="282.2" font-size="6.8" text-anchor="start" letter-spacing="-0.1" style="stroke-width:0.2px">Donor BM</text>
<text x="68.4" y="272.2" font-size="6.8" text-anchor="middle" letter-spacing="-0.1" style="stroke-width:0.2px">+/+</text>
<text x="68.4" y="287.5" font-size="6.8" text-anchor="middle" letter-spacing="-0.1" style="stroke-width:0.2px">(N=16)</text>
<text x="91.8" y="272.2" font-size="6.8" text-anchor="middle" letter-spacing="-0.1" style="stroke-width:0.2px">S153P</text>
<text x="91.8" y="287.5" font-size="6.8" text-anchor="middle" letter-spacing="-0.1" style="stroke-width:0.2px">(N=15)</text>
<text x="113.7" y="272.2" font-size="6.8" text-anchor="middle" letter-spacing="-0.1" style="stroke-width:0.2px">+/+</text>
<text x="113.7" y="279.2" font-size="6.8" text-anchor="middle" letter-spacing="-0.1" style="stroke-width:0.2px">+/+</text>
<text x="113.7" y="287.5" font-size="6.8" text-anchor="middle" letter-spacing="-0.1" style="stroke-width:0.2px">(N=16)</text>
<text x="136.4" y="272.2" font-size="6.8" text-anchor="middle" letter-spacing="-0.1" style="stroke-width:0.2px">S153P</text>
<text x="136.4" y="279.2" font-size="6.8" text-anchor="middle" letter-spacing="-0.1" style="stroke-width:0.2px">S153P</text>
<text x="136.4" y="287.5" font-size="6.8" text-anchor="middle" letter-spacing="-0.1" style="stroke-width:0.2px">(N=16)</text>
<text x="159.4" y="272.2" font-size="6.8" text-anchor="middle" letter-spacing="-0.1" style="stroke-width:0.2px">S153P</text>
<text x="159.4" y="279.2" font-size="6.8" text-anchor="middle" letter-spacing="-0.1" style="stroke-width:0.2px">+/+</text>
<text x="159.4" y="287.5" font-size="6.8" text-anchor="middle" letter-spacing="-0.1" style="stroke-width:0.2px">(N=14)</text>
<text x="190.5" y="163.46" font-size="12.2" text-anchor="start" font-weight="bold" letter-spacing="-0.4" style="stroke-width:0.0px">(f)</text>
<line x1="217.5" y1="182.1" x2="217.5" y2="263" stroke="#333333" stroke-width="1.0"/>
<line x1="214.1" y1="182.5" x2="217.5" y2="182.5" stroke="#333333" stroke-width="1.0"/>
<text x="213.3" y="186.2" font-size="9.3" text-anchor="end" letter-spacing="-0.43">300</text>
<line x1="214.1" y1="209.5" x2="217.5" y2="209.5" stroke="#333333" stroke-width="1.0"/>
<text x="213.3" y="212.9" font-size="9.3" text-anchor="end" letter-spacing="-0.43">200</text>
<line x1="214.1" y1="235.5" x2="217.5" y2="235.5" stroke="#333333" stroke-width="1.0"/>
<text x="213.3" y="239.5" font-size="9.3" text-anchor="end" letter-spacing="-0.43">100</text>
<line x1="214.1" y1="262.5" x2="217.5" y2="262.5" stroke="#333333" stroke-width="1.0"/>
<text x="213.3" y="266.1" font-size="9.3" text-anchor="end" letter-spacing="-0.43">0</text>
<line x1="217" y1="262.5" x2="338.7" y2="262.5" stroke="#333333" stroke-width="1.0"/>
<line x1="233.3" y1="262.5" x2="233.3" y2="265.5" stroke="#333333" stroke-width="1.0"/>
<line x1="256.2" y1="262.5" x2="256.2" y2="265.5" stroke="#333333" stroke-width="1.0"/>
<line x1="278.5" y1="262.5" x2="278.5" y2="265.5" stroke="#333333" stroke-width="1.0"/>
<line x1="301.2" y1="262.5" x2="301.2" y2="265.5" stroke="#333333" stroke-width="1.0"/>
<line x1="323.5" y1="262.5" x2="323.5" y2="265.5" stroke="#333333" stroke-width="1.0"/>
<text transform="translate(195.3,221.9) rotate(-90)" x="0" y="0" font-size="10.0" text-anchor="middle" textLength="62.8" lengthAdjust="spacingAndGlyphs">% WT Activity</text>
<line x1="233.3" y1="223.2" x2="233.3" y2="232" stroke="#6a6a6a" stroke-width="1.3"/>
<line x1="229.47" y1="223.2" x2="237.13" y2="223.2" stroke="#232323" stroke-width="1.1"/>
<line x1="233.3" y1="242.3" x2="233.3" y2="247.5" stroke="#6a6a6a" stroke-width="1.3"/>
<line x1="229.47" y1="247.5" x2="237.13" y2="247.5" stroke="#232323" stroke-width="1.1"/>
<rect x="226.23" y="232" width="14.13" height="10.3" fill="#7b7b7b" stroke="#232323" stroke-width="1.2"/>
<line x1="226.23" y1="236.4" x2="240.37" y2="236.4" stroke="#232323" stroke-width="1.2"/>
<line x1="256.2" y1="255.8" x2="256.2" y2="261.2" stroke="#ef8a3a" stroke-width="1.3"/>
<line x1="252.37" y1="255.8" x2="260.03" y2="255.8" stroke="#ee8737" stroke-width="1.1"/>
<rect x="249.13" y="261.2" width="14.13" height="1.2" fill="#f3b27e" stroke="#ee8737" stroke-width="1.2"/>
<line x1="249.13" y1="261.8" x2="263.27" y2="261.8" stroke="#ee8737" stroke-width="1.2"/>
<line x1="278.5" y1="226.5" x2="278.5" y2="237.6" stroke="#3a9a9a" stroke-width="1.3"/>
<line x1="274.67" y1="226.5" x2="282.33" y2="226.5" stroke="#1d8b8b" stroke-width="1.1"/>
<line x1="278.5" y1="242.5" x2="278.5" y2="246.3" stroke="#3a9a9a" stroke-width="1.3"/>
<line x1="274.67" y1="246.3" x2="282.33" y2="246.3" stroke="#1d8b8b" stroke-width="1.1"/>
<rect x="271.43" y="237.6" width="14.13" height="4.9" fill="#77b4b4" stroke="#1d8b8b" stroke-width="1.2"/>
<line x1="271.43" y1="240" x2="285.57" y2="240" stroke="#1d8b8b" stroke-width="1.2"/>
<line x1="301.2" y1="255.2" x2="301.2" y2="259.6" stroke="#6a52a0" stroke-width="1.3"/>
<line x1="297.37" y1="255.2" x2="305.03" y2="255.2" stroke="#5b3f8f" stroke-width="1.1"/>
<line x1="301.2" y1="261.9" x2="301.2" y2="262.5" stroke="#6a52a0" stroke-width="1.3"/>
<line x1="297.37" y1="262.5" x2="305.03" y2="262.5" stroke="#5b3f8f" stroke-width="1.1"/>
<rect x="294.13" y="259.6" width="14.13" height="2.3" fill="#8c76ae" stroke="#5b3f8f" stroke-width="1.2"/>
<line x1="294.13" y1="260.8" x2="308.27" y2="260.8" stroke="#5b3f8f" stroke-width="1.2"/>
<line x1="323.5" y1="256" x2="323.5" y2="259.6" stroke="#a28bc4" stroke-width="1.3"/>
<line x1="319.67" y1="256" x2="327.33" y2="256" stroke="#967bba" stroke-width="1.1"/>
<line x1="323.5" y1="261.9" x2="323.5" y2="262.5" stroke="#a28bc4" stroke-width="1.3"/>
<line x1="319.67" y1="262.5" x2="327.33" y2="262.5" stroke="#967bba" stroke-width="1.1"/>
<rect x="316.43" y="259.6" width="14.13" height="2.3" fill="#b9a6cd" stroke="#967bba" stroke-width="1.2"/>
<line x1="316.43" y1="260.8" x2="330.57" y2="260.8" stroke="#967bba" stroke-width="1.2"/>
<path d="M233.5,219.2 V213.5 H256.5 V250.4" fill="none" stroke="#333333" stroke-width="1"/>
<text x="244.75" y="212.15" font-size="6.8" text-anchor="middle" letter-spacing="-0.17" style="stroke-width:0.2px">&lt;0.0001</text>
<path d="M278.5,221 V198.5 H301.5 V202.7" fill="none" stroke="#333333" stroke-width="1"/>
<text x="289.85" y="196.25" font-size="6.8" text-anchor="middle" letter-spacing="-0.17" style="stroke-width:0.2px">0.0010</text>
<path d="M301.5,250.7 V213.5 H323.5 V250.7" fill="none" stroke="#333333" stroke-width="1"/>
<text x="312.35" y="211.65" font-size="6.8" text-anchor="middle" letter-spacing="-0.17" style="stroke-width:0.2px">&gt;0.9999</text>
<path d="M278.5,187.5 V182.5 H323.5 V202.7" fill="none" stroke="#333333" stroke-width="1"/>
<text x="301" y="181.45" font-size="6.8" text-anchor="middle" letter-spacing="-0.17" style="stroke-width:0.2px">0.0010</text>
<text x="190.3" y="272.5" font-size="6.8" text-anchor="start" letter-spacing="-0.1" style="stroke-width:0.2px">Recipient</text>
<text x="190.3" y="284" font-size="6.8" text-anchor="start" letter-spacing="-0.1" style="stroke-width:0.2px">Donor BM</text>
<text x="233.3" y="272.5" font-size="6.8" text-anchor="middle" letter-spacing="-0.1" style="stroke-width:0.2px">+/+</text>
<text x="233.3" y="288.3" font-size="6.8" text-anchor="middle" letter-spacing="-0.1" style="stroke-width:0.2px">(N=14)</text>
<text x="256.2" y="272.5" font-size="6.8" text-anchor="middle" letter-spacing="-0.1" style="stroke-width:0.2px">S153P</text>
<text x="256.2" y="288.3" font-size="6.8" text-anchor="middle" letter-spacing="-0.1" style="stroke-width:0.2px">(N=14)</text>
<text x="278.5" y="272.5" font-size="6.8" text-anchor="middle" letter-spacing="-0.1" style="stroke-width:0.2px">+/+</text>
<text x="278.5" y="280.8" font-size="6.8" text-anchor="middle" letter-spacing="-0.1" style="stroke-width:0.2px">+/+</text>
<text x="278.5" y="288.3" font-size="6.8" text-anchor="middle" letter-spacing="-0.1" style="stroke-width:0.2px">(N=15)</text>
<text x="301.2" y="272.5" font-size="6.8" text-anchor="middle" letter-spacing="-0.1" style="stroke-width:0.2px">S153P</text>
<text x="301.2" y="280.8" font-size="6.8" text-anchor="middle" letter-spacing="-0.1" style="stroke-width:0.2px">S153P</text>
<text x="301.2" y="288.3" font-size="6.8" text-anchor="middle" letter-spacing="-0.1" style="stroke-width:0.2px">(N=15)</text>
<text x="323.5" y="272.5" font-size="6.8" text-anchor="middle" letter-spacing="-0.1" style="stroke-width:0.2px">S153P</text>
<text x="323.5" y="280.8" font-size="6.8" text-anchor="middle" letter-spacing="-0.1" style="stroke-width:0.2px">+/+</text>
<text x="323.5" y="288.3" font-size="6.8" text-anchor="middle" letter-spacing="-0.1" style="stroke-width:0.2px">(N=13)</text>
<text x="351" y="163.46" font-size="12.2" text-anchor="start" font-weight="bold" letter-spacing="-0.4" style="stroke-width:0.0px">(g)</text>
<line x1="385.5" y1="191.6" x2="385.5" y2="271" stroke="#333333" stroke-width="1.0"/>
<line x1="382.1" y1="192.5" x2="385.5" y2="192.5" stroke="#333333" stroke-width="1.0"/>
<text x="380.9" y="195.7" font-size="9.3" text-anchor="end" letter-spacing="-0.43">400</text>
<line x1="382.1" y1="211.5" x2="385.5" y2="211.5" stroke="#333333" stroke-width="1.0"/>
<text x="380.9" y="215.2" font-size="9.3" text-anchor="end" letter-spacing="-0.43">300</text>
<line x1="382.1" y1="231.5" x2="385.5" y2="231.5" stroke="#333333" stroke-width="1.0"/>
<text x="380.9" y="234.7" font-size="9.3" text-anchor="end" letter-spacing="-0.43">200</text>
<line x1="382.1" y1="250.5" x2="385.5" y2="250.5" stroke="#333333" stroke-width="1.0"/>
<text x="380.9" y="254.2" font-size="9.3" text-anchor="end" letter-spacing="-0.43">100</text>
<line x1="382.1" y1="270.5" x2="385.5" y2="270.5" stroke="#333333" stroke-width="1.0"/>
<text x="380.9" y="273.7" font-size="9.3" text-anchor="end" letter-spacing="-0.43">0</text>
<line x1="385" y1="270.5" x2="499" y2="270.5" stroke="#333333" stroke-width="1.0"/>
<line x1="399.7" y1="270.1" x2="399.7" y2="273.1" stroke="#333333" stroke-width="1.0"/>
<line x1="420.7" y1="270.1" x2="420.7" y2="273.1" stroke="#333333" stroke-width="1.0"/>
<line x1="442" y1="270.1" x2="442" y2="273.1" stroke="#333333" stroke-width="1.0"/>
<line x1="463.6" y1="270.1" x2="463.6" y2="273.1" stroke="#333333" stroke-width="1.0"/>
<line x1="484.7" y1="270.1" x2="484.7" y2="273.1" stroke="#333333" stroke-width="1.0"/>
<text transform="translate(362.6,230.4) rotate(-90)" x="0" y="0" font-size="10.0" text-anchor="middle" textLength="59.9" lengthAdjust="spacingAndGlyphs">% WT Activity</text>
<line x1="399.7" y1="213.2" x2="399.7" y2="244.4" stroke="#6a6a6a" stroke-width="1.3"/>
<line x1="396.09" y1="213.2" x2="403.31" y2="213.2" stroke="#232323" stroke-width="1.1"/>
<line x1="399.7" y1="258.6" x2="399.7" y2="269.5" stroke="#6a6a6a" stroke-width="1.3"/>
<line x1="396.09" y1="269.5" x2="403.31" y2="269.5" stroke="#232323" stroke-width="1.1"/>
<rect x="393.07" y="244.4" width="13.25" height="14.2" fill="#7b7b7b" stroke="#232323" stroke-width="1.2"/>
<line x1="393.07" y1="251.1" x2="406.32" y2="251.1" stroke="#232323" stroke-width="1.2"/>
<line x1="420.7" y1="267.5" x2="420.7" y2="268.5" stroke="#ef8a3a" stroke-width="1.3"/>
<line x1="417.09" y1="267.5" x2="424.31" y2="267.5" stroke="#ee8737" stroke-width="1.1"/>
<rect x="414.07" y="268.5" width="13.25" height="1.3" fill="#f3b27e" stroke="#ee8737" stroke-width="1.2"/>
<line x1="414.07" y1="269.2" x2="427.32" y2="269.2" stroke="#ee8737" stroke-width="1.2"/>
<line x1="442" y1="207.3" x2="442" y2="243.8" stroke="#3a9a9a" stroke-width="1.3"/>
<line x1="438.39" y1="207.3" x2="445.61" y2="207.3" stroke="#1d8b8b" stroke-width="1.1"/>
<line x1="442" y1="265.5" x2="442" y2="269.5" stroke="#3a9a9a" stroke-width="1.3"/>
<line x1="438.39" y1="269.5" x2="445.61" y2="269.5" stroke="#1d8b8b" stroke-width="1.1"/>
<rect x="435.38" y="243.8" width="13.25" height="21.7" fill="#77b4b4" stroke="#1d8b8b" stroke-width="1.2"/>
<line x1="435.38" y1="252.7" x2="448.62" y2="252.7" stroke="#1d8b8b" stroke-width="1.2"/>
<line x1="463.6" y1="267.9" x2="463.6" y2="268.9" stroke="#6a52a0" stroke-width="1.3"/>
<line x1="459.99" y1="267.9" x2="467.21" y2="267.9" stroke="#5b3f8f" stroke-width="1.1"/>
<rect x="456.98" y="268.9" width="13.25" height="1.1" fill="#8c76ae" stroke="#5b3f8f" stroke-width="1.2"/>
<line x1="456.98" y1="269.5" x2="470.23" y2="269.5" stroke="#5b3f8f" stroke-width="1.2"/>
<line x1="484.7" y1="245" x2="484.7" y2="258.3" stroke="#a28bc4" stroke-width="1.3"/>
<line x1="481.09" y1="245" x2="488.31" y2="245" stroke="#967bba" stroke-width="1.1"/>
<line x1="484.7" y1="267.5" x2="484.7" y2="269.5" stroke="#a28bc4" stroke-width="1.3"/>
<line x1="481.09" y1="269.5" x2="488.31" y2="269.5" stroke="#967bba" stroke-width="1.1"/>
<rect x="478.07" y="258.3" width="13.25" height="9.2" fill="#b9a6cd" stroke="#967bba" stroke-width="1.2"/>
<line x1="478.07" y1="263" x2="491.32" y2="263" stroke="#967bba" stroke-width="1.2"/>
<path d="M399.5,210.2 V197.5 H420.5 V264.5" fill="none" stroke="#333333" stroke-width="1"/>
<text x="410.2" y="195.85" font-size="6.8" text-anchor="middle" letter-spacing="-0.17" style="stroke-width:0.2px">&lt;0.0001</text>
<path d="M442.5,202.8 V182.5 H463.5 V187.2" fill="none" stroke="#333333" stroke-width="1"/>
<text x="452.8" y="181.45" font-size="6.8" text-anchor="middle" letter-spacing="-0.17" style="stroke-width:0.2px">&lt;0.0001</text>
<path d="M463.5,263.4 V198.5 H484.5 V239.9" fill="none" stroke="#333333" stroke-width="1"/>
<text x="474.15" y="196.15" font-size="6.8" text-anchor="middle" letter-spacing="-0.17" style="stroke-width:0.2px">0.0022</text>
<path d="M442.5,172.3 V168.5 H484.5 V187.2" fill="none" stroke="#333333" stroke-width="1"/>
<text x="463.35" y="166.15" font-size="6.8" text-anchor="middle" letter-spacing="-0.17" style="stroke-width:0.2px">&gt;0.9999</text>
<text x="357.9" y="280.3" font-size="6.8" text-anchor="start" letter-spacing="-0.1" style="stroke-width:0.2px">Recipient</text>
<text x="357.9" y="290.7" font-size="6.8" text-anchor="start" letter-spacing="-0.1" style="stroke-width:0.2px">Donor BM</text>
<text x="399.7" y="280.3" font-size="6.8" text-anchor="middle" letter-spacing="-0.1" style="stroke-width:0.2px">+/+</text>
<text x="399.7" y="294.9" font-size="6.8" text-anchor="middle" letter-spacing="-0.1" style="stroke-width:0.2px">(N=16)</text>
<text x="420.7" y="280.3" font-size="6.8" text-anchor="middle" letter-spacing="-0.1" style="stroke-width:0.2px">S153P</text>
<text x="420.7" y="294.9" font-size="6.8" text-anchor="middle" letter-spacing="-0.1" style="stroke-width:0.2px">(N=14)</text>
<text x="442" y="280.3" font-size="6.8" text-anchor="middle" letter-spacing="-0.1" style="stroke-width:0.2px">+/+</text>
<text x="442" y="287.6" font-size="6.8" text-anchor="middle" letter-spacing="-0.1" style="stroke-width:0.2px">+/+</text>
<text x="442" y="294.9" font-size="6.8" text-anchor="middle" letter-spacing="-0.1" style="stroke-width:0.2px">(N=16)</text>
<text x="463.6" y="280.3" font-size="6.8" text-anchor="middle" letter-spacing="-0.1" style="stroke-width:0.2px">S153P</text>
<text x="463.6" y="287.6" font-size="6.8" text-anchor="middle" letter-spacing="-0.1" style="stroke-width:0.2px">S153P</text>
<text x="463.6" y="294.9" font-size="6.8" text-anchor="middle" letter-spacing="-0.1" style="stroke-width:0.2px">(N=15)</text>
<text x="484.7" y="280.3" font-size="6.8" text-anchor="middle" letter-spacing="-0.1" style="stroke-width:0.2px">S153P</text>
<text x="484.7" y="287.6" font-size="6.8" text-anchor="middle" letter-spacing="-0.1" style="stroke-width:0.2px">+/+</text>
<text x="484.7" y="294.9" font-size="6.8" text-anchor="middle" letter-spacing="-0.1" style="stroke-width:0.2px">(N=14)</text>
<text x="516.4" y="163.46" font-size="12.2" text-anchor="start" font-weight="bold" letter-spacing="-0.4" style="stroke-width:0.0px">(h)</text>
<line x1="548.5" y1="193.5" x2="548.5" y2="273" stroke="#333333" stroke-width="1.0"/>
<line x1="545.1" y1="194.5" x2="548.5" y2="194.5" stroke="#333333" stroke-width="1.0"/>
<text x="543.7" y="197.6" font-size="9.3" text-anchor="end" letter-spacing="-0.43">0.3</text>
<line x1="545.1" y1="220.5" x2="548.5" y2="220.5" stroke="#333333" stroke-width="1.0"/>
<text x="543.7" y="223.7" font-size="9.3" text-anchor="end" letter-spacing="-0.43">0.2</text>
<line x1="545.1" y1="246.5" x2="548.5" y2="246.5" stroke="#333333" stroke-width="1.0"/>
<text x="543.7" y="249.8" font-size="9.3" text-anchor="end" letter-spacing="-0.43">0.1</text>
<line x1="545.1" y1="272.5" x2="548.5" y2="272.5" stroke="#333333" stroke-width="1.0"/>
<text x="543.7" y="275.9" font-size="9.3" text-anchor="end" letter-spacing="-0.43">0.0</text>
<line x1="548" y1="272.5" x2="665.6" y2="272.5" stroke="#333333" stroke-width="1.0"/>
<line x1="563.3" y1="272.3" x2="563.3" y2="275.3" stroke="#333333" stroke-width="1.0"/>
<line x1="585.2" y1="272.3" x2="585.2" y2="275.3" stroke="#333333" stroke-width="1.0"/>
<line x1="606.9" y1="272.3" x2="606.9" y2="275.3" stroke="#333333" stroke-width="1.0"/>
<line x1="628.8" y1="272.3" x2="628.8" y2="275.3" stroke="#333333" stroke-width="1.0"/>
<line x1="650.6" y1="272.3" x2="650.6" y2="275.3" stroke="#333333" stroke-width="1.0"/>
<text transform="translate(528.2,232.1) rotate(-90)" x="0" y="0" font-size="10.0" text-anchor="middle" textLength="78.5" lengthAdjust="spacingAndGlyphs">GAG [ug/ug DNA]</text>
<line x1="563.3" y1="262.5" x2="563.3" y2="269.4" stroke="#6a6a6a" stroke-width="1.3"/>
<line x1="559.59" y1="262.5" x2="567.01" y2="262.5" stroke="#232323" stroke-width="1.1"/>
<rect x="556.48" y="269.4" width="13.64" height="2.6" fill="#7b7b7b" stroke="#232323" stroke-width="1.2"/>
<line x1="556.48" y1="271.8" x2="570.12" y2="271.8" stroke="#232323" stroke-width="1.2"/>
<line x1="585.2" y1="213.4" x2="585.2" y2="234.2" stroke="#ef8a3a" stroke-width="1.3"/>
<line x1="581.49" y1="213.4" x2="588.91" y2="213.4" stroke="#ee8737" stroke-width="1.1"/>
<line x1="585.2" y1="250.2" x2="585.2" y2="253.3" stroke="#ef8a3a" stroke-width="1.3"/>
<line x1="581.49" y1="253.3" x2="588.91" y2="253.3" stroke="#ee8737" stroke-width="1.1"/>
<rect x="578.38" y="234.2" width="13.64" height="16" fill="#f3b27e" stroke="#ee8737" stroke-width="1.2"/>
<line x1="578.38" y1="246.1" x2="592.02" y2="246.1" stroke="#ee8737" stroke-width="1.2"/>
<line x1="606.9" y1="258.4" x2="606.9" y2="268.2" stroke="#3a9a9a" stroke-width="1.3"/>
<line x1="603.19" y1="258.4" x2="610.61" y2="258.4" stroke="#1d8b8b" stroke-width="1.1"/>
<rect x="600.08" y="268.2" width="13.64" height="3.8" fill="#77b4b4" stroke="#1d8b8b" stroke-width="1.2"/>
<line x1="600.08" y1="271.6" x2="613.72" y2="271.6" stroke="#1d8b8b" stroke-width="1.2"/>
<line x1="628.8" y1="204.8" x2="628.8" y2="236.5" stroke="#6a52a0" stroke-width="1.3"/>
<line x1="625.09" y1="204.8" x2="632.51" y2="204.8" stroke="#5b3f8f" stroke-width="1.1"/>
<line x1="628.8" y1="255.9" x2="628.8" y2="261.4" stroke="#6a52a0" stroke-width="1.3"/>
<line x1="625.09" y1="261.4" x2="632.51" y2="261.4" stroke="#5b3f8f" stroke-width="1.1"/>
<rect x="621.98" y="236.5" width="13.64" height="19.4" fill="#8c76ae" stroke="#5b3f8f" stroke-width="1.2"/>
<line x1="621.98" y1="245.7" x2="635.62" y2="245.7" stroke="#5b3f8f" stroke-width="1.2"/>
<line x1="650.6" y1="248.5" x2="650.6" y2="260.8" stroke="#a28bc4" stroke-width="1.3"/>
<line x1="646.89" y1="248.5" x2="654.31" y2="248.5" stroke="#967bba" stroke-width="1.1"/>
<line x1="650.6" y1="270.6" x2="650.6" y2="271.6" stroke="#a28bc4" stroke-width="1.3"/>
<line x1="646.89" y1="271.6" x2="654.31" y2="271.6" stroke="#967bba" stroke-width="1.1"/>
<rect x="643.78" y="260.8" width="13.64" height="9.8" fill="#b9a6cd" stroke="#967bba" stroke-width="1.2"/>
<line x1="643.78" y1="265.5" x2="657.42" y2="265.5" stroke="#967bba" stroke-width="1.2"/>
<path d="M563.5,257.3 V195.5 H585.5 V209.3" fill="none" stroke="#333333" stroke-width="1"/>
<text x="574.25" y="194.15" font-size="6.8" text-anchor="middle" letter-spacing="-0.17" style="stroke-width:0.2px">&lt;0.0001</text>
<path d="M606.5,254.3 V180.5 H628.5 V185.2" fill="none" stroke="#333333" stroke-width="1"/>
<text x="617.85" y="179.05" font-size="6.8" text-anchor="middle" letter-spacing="-0.17" style="stroke-width:0.2px">&lt;0.0001</text>
<path d="M628.5,200.1 V195.5 H650.5 V244" fill="none" stroke="#333333" stroke-width="1"/>
<text x="639.7" y="194.15" font-size="6.8" text-anchor="middle" letter-spacing="-0.17" style="stroke-width:0.2px">0.0093</text>
<path d="M606.5,170.4 V166.5 H650.5 V185.2" fill="none" stroke="#333333" stroke-width="1"/>
<text x="628.75" y="164.05" font-size="6.8" text-anchor="middle" letter-spacing="-0.17" style="stroke-width:0.2px">0.4467</text>
<text x="521.9" y="282.1" font-size="6.8" text-anchor="start" letter-spacing="-0.1" style="stroke-width:0.2px">Recipient</text>
<text x="521.9" y="292.9" font-size="6.8" text-anchor="start" letter-spacing="-0.1" style="stroke-width:0.2px">Donor BM</text>
<text x="563.3" y="282.1" font-size="6.8" text-anchor="middle" letter-spacing="-0.1" style="stroke-width:0.2px">+/+</text>
<text x="563.3" y="297.5" font-size="6.8" text-anchor="middle" letter-spacing="-0.1" style="stroke-width:0.2px">(N=15)</text>
<text x="585.2" y="282.1" font-size="6.8" text-anchor="middle" letter-spacing="-0.1" style="stroke-width:0.2px">S153P</text>
<text x="585.2" y="297.5" font-size="6.8" text-anchor="middle" letter-spacing="-0.1" style="stroke-width:0.2px">(N=15)</text>
<text x="606.9" y="282.1" font-size="6.8" text-anchor="middle" letter-spacing="-0.1" style="stroke-width:0.2px">+/+</text>
<text x="606.9" y="287.6" font-size="6.8" text-anchor="middle" letter-spacing="-0.1" style="stroke-width:0.2px">+/+</text>
<text x="606.9" y="297.5" font-size="6.8" text-anchor="middle" letter-spacing="-0.1" style="stroke-width:0.2px">(N=16)</text>
<text x="628.8" y="282.1" font-size="6.8" text-anchor="middle" letter-spacing="-0.1" style="stroke-width:0.2px">S153P</text>
<text x="628.8" y="287.6" font-size="6.8" text-anchor="middle" letter-spacing="-0.1" style="stroke-width:0.2px">S153P</text>
<text x="628.8" y="297.5" font-size="6.8" text-anchor="middle" letter-spacing="-0.1" style="stroke-width:0.2px">(N=16)</text>
<text x="650.6" y="282.1" font-size="6.8" text-anchor="middle" letter-spacing="-0.1" style="stroke-width:0.2px">S153P</text>
<text x="650.6" y="287.6" font-size="6.8" text-anchor="middle" letter-spacing="-0.1" style="stroke-width:0.2px">+/+</text>
<text x="650.6" y="297.5" font-size="6.8" text-anchor="middle" letter-spacing="-0.1" style="stroke-width:0.2px">(N=13)</text>
<text x="24.4" y="311.26" font-size="12.2" text-anchor="start" font-weight="bold" letter-spacing="-0.4" style="stroke-width:0.0px">(i)</text>
<line x1="54.5" y1="335" x2="54.5" y2="415" stroke="#333333" stroke-width="1.0"/>
<line x1="51.1" y1="335.5" x2="54.5" y2="335.5" stroke="#333333" stroke-width="1.0"/>
<text x="49.9" y="339.1" font-size="9.3" text-anchor="end" letter-spacing="-0.43">300</text>
<line x1="51.1" y1="361.5" x2="54.5" y2="361.5" stroke="#333333" stroke-width="1.0"/>
<text x="49.9" y="365.3" font-size="9.3" text-anchor="end" letter-spacing="-0.43">200</text>
<line x1="51.1" y1="387.5" x2="54.5" y2="387.5" stroke="#333333" stroke-width="1.0"/>
<text x="49.9" y="391.5" font-size="9.3" text-anchor="end" letter-spacing="-0.43">100</text>
<line x1="51.1" y1="414.5" x2="54.5" y2="414.5" stroke="#333333" stroke-width="1.0"/>
<text x="49.9" y="417.8" font-size="9.3" text-anchor="end" letter-spacing="-0.43">0</text>
<line x1="54" y1="414.5" x2="172.7" y2="414.5" stroke="#333333" stroke-width="1.0"/>
<line x1="69.3" y1="414.2" x2="69.3" y2="417.2" stroke="#333333" stroke-width="1.0"/>
<line x1="91.5" y1="414.2" x2="91.5" y2="417.2" stroke="#333333" stroke-width="1.0"/>
<line x1="113.4" y1="414.2" x2="113.4" y2="417.2" stroke="#333333" stroke-width="1.0"/>
<line x1="135.5" y1="414.2" x2="135.5" y2="417.2" stroke="#333333" stroke-width="1.0"/>
<line x1="157.5" y1="414.2" x2="157.5" y2="417.2" stroke="#333333" stroke-width="1.0"/>
<text transform="translate(33.3,374.4) rotate(-90)" x="0" y="0" font-size="10.0" text-anchor="middle" textLength="56.7" lengthAdjust="spacingAndGlyphs">%WT Activity</text>
<line x1="69.3" y1="373.7" x2="69.3" y2="380.8" stroke="#6a6a6a" stroke-width="1.3"/>
<line x1="65.55" y1="373.7" x2="73.05" y2="373.7" stroke="#232323" stroke-width="1.1"/>
<line x1="69.3" y1="395.4" x2="69.3" y2="400.4" stroke="#6a6a6a" stroke-width="1.3"/>
<line x1="65.55" y1="400.4" x2="73.05" y2="400.4" stroke="#232323" stroke-width="1.1"/>
<rect x="62.4" y="380.8" width="13.79" height="14.6" fill="#7b7b7b" stroke="#232323" stroke-width="1.2"/>
<line x1="62.4" y1="388" x2="76.2" y2="388" stroke="#232323" stroke-width="1.2"/>
<line x1="91.5" y1="387.8" x2="91.5" y2="397.2" stroke="#ef8a3a" stroke-width="1.3"/>
<line x1="87.75" y1="387.8" x2="95.25" y2="387.8" stroke="#ee8737" stroke-width="1.1"/>
<line x1="91.5" y1="404.1" x2="91.5" y2="405.5" stroke="#ef8a3a" stroke-width="1.3"/>
<line x1="87.75" y1="405.5" x2="95.25" y2="405.5" stroke="#ee8737" stroke-width="1.1"/>
<rect x="84.6" y="397.2" width="13.79" height="6.9" fill="#f3b27e" stroke="#ee8737" stroke-width="1.2"/>
<line x1="84.6" y1="400.4" x2="98.4" y2="400.4" stroke="#ee8737" stroke-width="1.2"/>
<line x1="113.4" y1="362.3" x2="113.4" y2="377.1" stroke="#3a9a9a" stroke-width="1.3"/>
<line x1="109.65" y1="362.3" x2="117.15" y2="362.3" stroke="#1d8b8b" stroke-width="1.1"/>
<line x1="113.4" y1="391.5" x2="113.4" y2="397.5" stroke="#3a9a9a" stroke-width="1.3"/>
<line x1="109.65" y1="397.5" x2="117.15" y2="397.5" stroke="#1d8b8b" stroke-width="1.1"/>
<rect x="106.5" y="377.1" width="13.79" height="14.4" fill="#77b4b4" stroke="#1d8b8b" stroke-width="1.2"/>
<line x1="106.5" y1="384.4" x2="120.3" y2="384.4" stroke="#1d8b8b" stroke-width="1.2"/>
<line x1="135.5" y1="382.6" x2="135.5" y2="393.3" stroke="#6a52a0" stroke-width="1.3"/>
<line x1="131.75" y1="382.6" x2="139.25" y2="382.6" stroke="#5b3f8f" stroke-width="1.1"/>
<line x1="135.5" y1="400.4" x2="135.5" y2="403.2" stroke="#6a52a0" stroke-width="1.3"/>
<line x1="131.75" y1="403.2" x2="139.25" y2="403.2" stroke="#5b3f8f" stroke-width="1.1"/>
<rect x="128.6" y="393.3" width="13.79" height="7.1" fill="#8c76ae" stroke="#5b3f8f" stroke-width="1.2"/>
<line x1="128.6" y1="396.9" x2="142.4" y2="396.9" stroke="#5b3f8f" stroke-width="1.2"/>
<line x1="157.5" y1="382.6" x2="157.5" y2="393.3" stroke="#a28bc4" stroke-width="1.3"/>
<line x1="153.75" y1="382.6" x2="161.25" y2="382.6" stroke="#967bba" stroke-width="1.1"/>
<line x1="157.5" y1="400.4" x2="157.5" y2="404.8" stroke="#a28bc4" stroke-width="1.3"/>
<line x1="153.75" y1="404.8" x2="161.25" y2="404.8" stroke="#967bba" stroke-width="1.1"/>
<rect x="150.6" y="393.3" width="13.79" height="7.1" fill="#b9a6cd" stroke="#967bba" stroke-width="1.2"/>
<line x1="150.6" y1="396.9" x2="164.4" y2="396.9" stroke="#967bba" stroke-width="1.2"/>
<path d="M69.5,368 V352.5 H91.5 V384" fill="none" stroke="#333333" stroke-width="1"/>
<text x="80.4" y="351.45" font-size="6.8" text-anchor="middle" letter-spacing="-0.17" style="stroke-width:0.2px">0.0001</text>
<path d="M113.5,357.7 V338.5 H135.5 V342.1" fill="none" stroke="#333333" stroke-width="1"/>
<text x="124.45" y="336.85" font-size="6.8" text-anchor="middle" letter-spacing="-0.17" style="stroke-width:0.2px">0.0012</text>
<path d="M135.5,378.1 V352.5 H157.5 V378.1" fill="none" stroke="#333333" stroke-width="1"/>
<text x="146.5" y="351.25" font-size="6.8" text-anchor="middle" letter-spacing="-0.17" style="stroke-width:0.2px">&gt;0.9999</text>
<path d="M113.5,327.7 V323.5 H157.5 V342.1" fill="none" stroke="#333333" stroke-width="1"/>
<text x="135.45" y="321.65" font-size="6.8" text-anchor="middle" letter-spacing="-0.17" style="stroke-width:0.2px">0.0065</text>
<text x="26.7" y="423.9" font-size="6.8" text-anchor="start" letter-spacing="-0.1" style="stroke-width:0.2px">Recipient</text>
<text x="26.7" y="434.5" font-size="6.8" text-anchor="start" letter-spacing="-0.1" style="stroke-width:0.2px">Donor BM</text>
<text x="69.3" y="423.9" font-size="6.8" text-anchor="middle" letter-spacing="-0.1" style="stroke-width:0.2px">+/+</text>
<text x="69.3" y="438.7" font-size="6.8" text-anchor="middle" letter-spacing="-0.1" style="stroke-width:0.2px">(N=16)</text>
<text x="91.5" y="423.9" font-size="6.8" text-anchor="middle" letter-spacing="-0.1" style="stroke-width:0.2px">S153P</text>
<text x="91.5" y="438.7" font-size="6.8" text-anchor="middle" letter-spacing="-0.1" style="stroke-width:0.2px">(N=15)</text>
<text x="113.4" y="423.9" font-size="6.8" text-anchor="middle" letter-spacing="-0.1" style="stroke-width:0.2px">+/+</text>
<text x="113.4" y="431.8" font-size="6.8" text-anchor="middle" letter-spacing="-0.1" style="stroke-width:0.2px">+/+</text>
<text x="113.4" y="438.7" font-size="6.8" text-anchor="middle" letter-spacing="-0.1" style="stroke-width:0.2px">(N=16)</text>
<text x="135.5" y="423.9" font-size="6.8" text-anchor="middle" letter-spacing="-0.1" style="stroke-width:0.2px">S153P</text>
<text x="135.5" y="431.8" font-size="6.8" text-anchor="middle" letter-spacing="-0.1" style="stroke-width:0.2px">S153P</text>
<text x="135.5" y="438.7" font-size="6.8" text-anchor="middle" letter-spacing="-0.1" style="stroke-width:0.2px">(N=17)</text>
<text x="157.5" y="423.9" font-size="6.8" text-anchor="middle" letter-spacing="-0.1" style="stroke-width:0.2px">S153P</text>
<text x="157.5" y="431.8" font-size="6.8" text-anchor="middle" letter-spacing="-0.1" style="stroke-width:0.2px">+/+</text>
<text x="157.5" y="438.7" font-size="6.8" text-anchor="middle" letter-spacing="-0.1" style="stroke-width:0.2px">(N=13)</text>
<text x="190.5" y="311.26" font-size="12.2" text-anchor="start" font-weight="bold" letter-spacing="-0.4" style="stroke-width:0.0px">(j)</text>
<line x1="220.5" y1="341.3" x2="220.5" y2="419" stroke="#333333" stroke-width="1.0"/>
<line x1="217.1" y1="341.5" x2="220.5" y2="341.5" stroke="#333333" stroke-width="1.0"/>
<text x="215.8" y="345.4" font-size="9.3" text-anchor="end" letter-spacing="-0.43">300</text>
<line x1="217.1" y1="367.5" x2="220.5" y2="367.5" stroke="#333333" stroke-width="1.0"/>
<text x="215.8" y="370.9" font-size="9.3" text-anchor="end" letter-spacing="-0.43">200</text>
<line x1="217.1" y1="392.5" x2="220.5" y2="392.5" stroke="#333333" stroke-width="1.0"/>
<text x="215.8" y="396.3" font-size="9.3" text-anchor="end" letter-spacing="-0.43">100</text>
<line x1="217.1" y1="418.5" x2="220.5" y2="418.5" stroke="#333333" stroke-width="1.0"/>
<text x="215.8" y="421.8" font-size="9.3" text-anchor="end" letter-spacing="-0.43">0</text>
<line x1="220" y1="418.5" x2="336.1" y2="418.5" stroke="#333333" stroke-width="1.0"/>
<line x1="234.7" y1="418.2" x2="234.7" y2="421.2" stroke="#333333" stroke-width="1.0"/>
<line x1="256.1" y1="418.2" x2="256.1" y2="421.2" stroke="#333333" stroke-width="1.0"/>
<line x1="277.5" y1="418.2" x2="277.5" y2="421.2" stroke="#333333" stroke-width="1.0"/>
<line x1="299.2" y1="418.2" x2="299.2" y2="421.2" stroke="#333333" stroke-width="1.0"/>
<line x1="320.3" y1="418.2" x2="320.3" y2="421.2" stroke="#333333" stroke-width="1.0"/>
<text transform="translate(198.3,379) rotate(-90)" x="0" y="0" font-size="10.0" text-anchor="middle" textLength="59" lengthAdjust="spacingAndGlyphs">% WT Activity</text>
<line x1="234.7" y1="380.2" x2="234.7" y2="383" stroke="#6a6a6a" stroke-width="1.3"/>
<line x1="231.06" y1="380.2" x2="238.34" y2="380.2" stroke="#232323" stroke-width="1.1"/>
<rect x="228.02" y="383" width="13.35" height="9.9" fill="#7b7b7b" stroke="#232323" stroke-width="1.2"/>
<line x1="228.02" y1="386.1" x2="241.38" y2="386.1" stroke="#232323" stroke-width="1.2"/>
<rect x="248.82" y="417.4" width="14.55" height="1.2" fill="#ee8737" opacity="0.8"/>
<line x1="277.5" y1="341.8" x2="277.5" y2="356.6" stroke="#3a9a9a" stroke-width="1.3"/>
<line x1="273.86" y1="341.8" x2="281.14" y2="341.8" stroke="#1d8b8b" stroke-width="1.1"/>
<rect x="270.82" y="356.6" width="13.35" height="36.3" fill="#77b4b4" stroke="#1d8b8b" stroke-width="1.2"/>
<line x1="270.82" y1="376.6" x2="284.18" y2="376.6" stroke="#1d8b8b" stroke-width="1.2"/>
<rect x="291.92" y="417.4" width="14.55" height="1.2" fill="#5b3f8f" opacity="0.8"/>
<line x1="320.3" y1="348.1" x2="320.3" y2="369.7" stroke="#a28bc4" stroke-width="1.3"/>
<line x1="316.66" y1="348.1" x2="323.94" y2="348.1" stroke="#967bba" stroke-width="1.1"/>
<line x1="320.3" y1="413" x2="320.3" y2="417.8" stroke="#a28bc4" stroke-width="1.3"/>
<line x1="316.66" y1="417.8" x2="323.94" y2="417.8" stroke="#967bba" stroke-width="1.1"/>
<rect x="313.62" y="369.7" width="13.35" height="43.3" fill="#b9a6cd" stroke="#967bba" stroke-width="1.2"/>
<line x1="313.62" y1="386.6" x2="326.98" y2="386.6" stroke="#967bba" stroke-width="1.2"/>
<path d="M234.5,375.6 V332.5 H256.5 V416.8" fill="none" stroke="#333333" stroke-width="1"/>
<text x="245.4" y="330.55" font-size="6.8" text-anchor="middle" letter-spacing="-0.17" style="stroke-width:0.2px">0.0451</text>
<path d="M277.5,337.5 V318.5 H299.5 V322.7" fill="none" stroke="#333333" stroke-width="1"/>
<text x="288.35" y="315.75" font-size="6.8" text-anchor="middle" letter-spacing="-0.17" style="stroke-width:0.2px">0.0016</text>
<path d="M299.5,413.6 V332.5 H320.5 V343.5" fill="none" stroke="#333333" stroke-width="1"/>
<text x="309.75" y="330.55" font-size="6.8" text-anchor="middle" letter-spacing="-0.17" style="stroke-width:0.2px">0.0268</text>
<path d="M277.5,308 V303.5 H320.5 V322.7" fill="none" stroke="#333333" stroke-width="1"/>
<text x="298.9" y="301.15" font-size="6.8" text-anchor="middle" letter-spacing="-0.17" style="stroke-width:0.2px">&gt;0.9999</text>
<text x="192.4" y="427.9" font-size="6.8" text-anchor="start" letter-spacing="-0.1" style="stroke-width:0.2px">Recipient</text>
<text x="192.4" y="439.3" font-size="6.8" text-anchor="start" letter-spacing="-0.1" style="stroke-width:0.2px">Donor BM</text>
<text x="234.7" y="427.9" font-size="6.8" text-anchor="middle" letter-spacing="-0.1" style="stroke-width:0.2px">+/+</text>
<text x="234.7" y="442.7" font-size="6.8" text-anchor="middle" letter-spacing="-0.1" style="stroke-width:0.2px">(N=5)</text>
<text x="256.1" y="427.9" font-size="6.8" text-anchor="middle" letter-spacing="-0.1" style="stroke-width:0.2px">S153P</text>
<text x="256.1" y="442.7" font-size="6.8" text-anchor="middle" letter-spacing="-0.1" style="stroke-width:0.2px">(N=8)</text>
<text x="277.5" y="427.9" font-size="6.8" text-anchor="middle" letter-spacing="-0.1" style="stroke-width:0.2px">+/+</text>
<text x="277.5" y="434.9" font-size="6.8" text-anchor="middle" letter-spacing="-0.1" style="stroke-width:0.2px">+/+</text>
<text x="277.5" y="442.7" font-size="6.8" text-anchor="middle" letter-spacing="-0.1" style="stroke-width:0.2px">(N=6)</text>
<text x="299.2" y="427.9" font-size="6.8" text-anchor="middle" letter-spacing="-0.1" style="stroke-width:0.2px">S153P</text>
<text x="299.2" y="434.9" font-size="6.8" text-anchor="middle" letter-spacing="-0.1" style="stroke-width:0.2px">S153P</text>
<text x="299.2" y="442.7" font-size="6.8" text-anchor="middle" letter-spacing="-0.1" style="stroke-width:0.2px">(N=10)</text>
<text x="320.3" y="427.9" font-size="6.8" text-anchor="middle" letter-spacing="-0.1" style="stroke-width:0.2px">S153P</text>
<text x="320.3" y="434.9" font-size="6.8" text-anchor="middle" letter-spacing="-0.1" style="stroke-width:0.2px">+/+</text>
<text x="320.3" y="442.7" font-size="6.8" text-anchor="middle" letter-spacing="-0.1" style="stroke-width:0.2px">(N=8)</text>
<text x="351.4" y="311.26" font-size="12.2" text-anchor="start" font-weight="bold" letter-spacing="-0.4" style="stroke-width:0.0px">(k)</text>
<line x1="382.5" y1="331.1" x2="382.5" y2="412" stroke="#333333" stroke-width="1.0"/>
<line x1="379.1" y1="331.5" x2="382.5" y2="331.5" stroke="#333333" stroke-width="1.0"/>
<text x="378" y="335.2" font-size="9.3" text-anchor="end" letter-spacing="-0.43">400</text>
<line x1="379.1" y1="351.5" x2="382.5" y2="351.5" stroke="#333333" stroke-width="1.0"/>
<text x="378" y="355.1" font-size="9.3" text-anchor="end" letter-spacing="-0.43">300</text>
<line x1="379.1" y1="371.5" x2="382.5" y2="371.5" stroke="#333333" stroke-width="1.0"/>
<text x="378" y="374.9" font-size="9.3" text-anchor="end" letter-spacing="-0.43">200</text>
<line x1="379.1" y1="391.5" x2="382.5" y2="391.5" stroke="#333333" stroke-width="1.0"/>
<text x="378" y="394.8" font-size="9.3" text-anchor="end" letter-spacing="-0.43">100</text>
<line x1="379.1" y1="410.5" x2="382.5" y2="410.5" stroke="#333333" stroke-width="1.0"/>
<text x="378" y="414.6" font-size="9.3" text-anchor="end" letter-spacing="-0.43">0</text>
<line x1="382" y1="411.5" x2="502.2" y2="411.5" stroke="#333333" stroke-width="1.0"/>
<line x1="397.4" y1="411" x2="397.4" y2="414" stroke="#333333" stroke-width="1.0"/>
<line x1="419.6" y1="411" x2="419.6" y2="414" stroke="#333333" stroke-width="1.0"/>
<line x1="442.2" y1="411" x2="442.2" y2="414" stroke="#333333" stroke-width="1.0"/>
<line x1="464.6" y1="411" x2="464.6" y2="414" stroke="#333333" stroke-width="1.0"/>
<line x1="486.8" y1="411" x2="486.8" y2="414" stroke="#333333" stroke-width="1.0"/>
<text transform="translate(359.4,370.4) rotate(-90)" x="0" y="0" font-size="10.0" text-anchor="middle" textLength="61.1" lengthAdjust="spacingAndGlyphs">% WT Activity</text>
<line x1="397.4" y1="382.3" x2="397.4" y2="391.4" stroke="#6a6a6a" stroke-width="1.3"/>
<line x1="393.6" y1="382.3" x2="401.2" y2="382.3" stroke="#232323" stroke-width="1.1"/>
<line x1="397.4" y1="395.6" x2="397.4" y2="399.2" stroke="#6a6a6a" stroke-width="1.3"/>
<line x1="393.6" y1="399.2" x2="401.2" y2="399.2" stroke="#232323" stroke-width="1.1"/>
<rect x="390.4" y="391.4" width="14" height="4.2" fill="#7b7b7b" stroke="#232323" stroke-width="1.2"/>
<line x1="390.4" y1="393.5" x2="404.4" y2="393.5" stroke="#232323" stroke-width="1.2"/>
<line x1="419.6" y1="390.3" x2="419.6" y2="396" stroke="#ef8a3a" stroke-width="1.3"/>
<line x1="415.8" y1="390.3" x2="423.4" y2="390.3" stroke="#ee8737" stroke-width="1.1"/>
<line x1="419.6" y1="407.6" x2="419.6" y2="410.4" stroke="#ef8a3a" stroke-width="1.3"/>
<line x1="415.8" y1="410.4" x2="423.4" y2="410.4" stroke="#ee8737" stroke-width="1.1"/>
<rect x="412.6" y="396" width="14" height="11.6" fill="#f3b27e" stroke="#ee8737" stroke-width="1.2"/>
<line x1="412.6" y1="404" x2="426.6" y2="404" stroke="#ee8737" stroke-width="1.2"/>
<line x1="442.2" y1="379.1" x2="442.2" y2="386.5" stroke="#3a9a9a" stroke-width="1.3"/>
<line x1="438.4" y1="379.1" x2="446" y2="379.1" stroke="#1d8b8b" stroke-width="1.1"/>
<line x1="442.2" y1="389.2" x2="442.2" y2="403.4" stroke="#3a9a9a" stroke-width="1.3"/>
<line x1="438.4" y1="403.4" x2="446" y2="403.4" stroke="#1d8b8b" stroke-width="1.1"/>
<rect x="435.2" y="386.5" width="14" height="2.7" fill="#77b4b4" stroke="#1d8b8b" stroke-width="1.2"/>
<line x1="435.2" y1="387.9" x2="449.2" y2="387.9" stroke="#1d8b8b" stroke-width="1.2"/>
<line x1="464.6" y1="396.1" x2="464.6" y2="401.3" stroke="#6a52a0" stroke-width="1.3"/>
<line x1="460.8" y1="396.1" x2="468.4" y2="396.1" stroke="#5b3f8f" stroke-width="1.1"/>
<line x1="464.6" y1="407.7" x2="464.6" y2="410.4" stroke="#6a52a0" stroke-width="1.3"/>
<line x1="460.8" y1="410.4" x2="468.4" y2="410.4" stroke="#5b3f8f" stroke-width="1.1"/>
<rect x="457.6" y="401.3" width="14" height="6.4" fill="#8c76ae" stroke="#5b3f8f" stroke-width="1.2"/>
<line x1="457.6" y1="404.1" x2="471.6" y2="404.1" stroke="#5b3f8f" stroke-width="1.2"/>
<line x1="486.8" y1="385.5" x2="486.8" y2="393.5" stroke="#a28bc4" stroke-width="1.3"/>
<line x1="483" y1="385.5" x2="490.6" y2="385.5" stroke="#967bba" stroke-width="1.1"/>
<line x1="486.8" y1="404.1" x2="486.8" y2="406.8" stroke="#a28bc4" stroke-width="1.3"/>
<line x1="483" y1="406.8" x2="490.6" y2="406.8" stroke="#967bba" stroke-width="1.1"/>
<rect x="479.8" y="393.5" width="14" height="10.6" fill="#b9a6cd" stroke="#967bba" stroke-width="1.2"/>
<line x1="479.8" y1="398.2" x2="493.8" y2="398.2" stroke="#967bba" stroke-width="1.2"/>
<path d="M397.5,376.1 V369.5 H419.5 V386.1" fill="none" stroke="#333333" stroke-width="1"/>
<text x="408.5" y="367.85" font-size="6.8" text-anchor="middle" letter-spacing="-0.17" style="stroke-width:0.2px">0.0396</text>
<path d="M442.5,374.1 V354.5 H464.5 V358.7" fill="none" stroke="#333333" stroke-width="1"/>
<text x="453.4" y="352.65" font-size="6.8" text-anchor="middle" letter-spacing="-0.17" style="stroke-width:0.2px">0.0002</text>
<path d="M464.5,391.4 V369.5 H486.5 V380.9" fill="none" stroke="#333333" stroke-width="1"/>
<text x="475.7" y="367.85" font-size="6.8" text-anchor="middle" letter-spacing="-0.17" style="stroke-width:0.2px">0.4381</text>
<path d="M442.5,343.9 V338.5 H486.5 V358.7" fill="none" stroke="#333333" stroke-width="1"/>
<text x="464.5" y="337.25" font-size="6.8" text-anchor="middle" letter-spacing="-0.17" style="stroke-width:0.2px">0.0309</text>
<text x="354" y="421.1" font-size="6.8" text-anchor="start" letter-spacing="-0.1" style="stroke-width:0.2px">Recipient</text>
<text x="354" y="431.8" font-size="6.8" text-anchor="start" letter-spacing="-0.1" style="stroke-width:0.2px">Donor BM</text>
<text x="397.4" y="421.1" font-size="6.8" text-anchor="middle" letter-spacing="-0.1" style="stroke-width:0.2px">+/+</text>
<text x="397.4" y="436.9" font-size="6.8" text-anchor="middle" letter-spacing="-0.1" style="stroke-width:0.2px">(N=8)</text>
<text x="419.6" y="421.1" font-size="6.8" text-anchor="middle" letter-spacing="-0.1" style="stroke-width:0.2px">S153P</text>
<text x="419.6" y="436.9" font-size="6.8" text-anchor="middle" letter-spacing="-0.1" style="stroke-width:0.2px">(N=11)</text>
<text x="442.2" y="421.1" font-size="6.8" text-anchor="middle" letter-spacing="-0.1" style="stroke-width:0.2px">+/+</text>
<text x="442.2" y="428.3" font-size="6.8" text-anchor="middle" letter-spacing="-0.1" style="stroke-width:0.2px">+/+</text>
<text x="442.2" y="436.9" font-size="6.8" text-anchor="middle" letter-spacing="-0.1" style="stroke-width:0.2px">(N=11)</text>
<text x="464.6" y="421.1" font-size="6.8" text-anchor="middle" letter-spacing="-0.1" style="stroke-width:0.2px">S153P</text>
<text x="464.6" y="428.3" font-size="6.8" text-anchor="middle" letter-spacing="-0.1" style="stroke-width:0.2px">S153P</text>
<text x="464.6" y="436.9" font-size="6.8" text-anchor="middle" letter-spacing="-0.1" style="stroke-width:0.2px">(N=10)</text>
<text x="486.8" y="421.1" font-size="6.8" text-anchor="middle" letter-spacing="-0.1" style="stroke-width:0.2px">S153P</text>
<text x="486.8" y="428.3" font-size="6.8" text-anchor="middle" letter-spacing="-0.1" style="stroke-width:0.2px">+/+</text>
<text x="486.8" y="436.9" font-size="6.8" text-anchor="middle" letter-spacing="-0.1" style="stroke-width:0.2px">(N=12)</text>
<text x="516.6" y="311.26" font-size="12.2" text-anchor="start" font-weight="bold" letter-spacing="-0.4" style="stroke-width:0.0px">(l)</text>
<line x1="546.5" y1="331.1" x2="546.5" y2="412" stroke="#333333" stroke-width="1.0"/>
<line x1="543.1" y1="331.5" x2="546.5" y2="331.5" stroke="#333333" stroke-width="1.0"/>
<text x="542" y="335.2" font-size="9.3" text-anchor="end" letter-spacing="-0.43">0.3</text>
<line x1="543.1" y1="358.5" x2="546.5" y2="358.5" stroke="#333333" stroke-width="1.0"/>
<text x="542" y="361.8" font-size="9.3" text-anchor="end" letter-spacing="-0.43">0.2</text>
<line x1="543.1" y1="384.5" x2="546.5" y2="384.5" stroke="#333333" stroke-width="1.0"/>
<text x="542" y="388.4" font-size="9.3" text-anchor="end" letter-spacing="-0.43">0.1</text>
<line x1="543.1" y1="411.5" x2="546.5" y2="411.5" stroke="#333333" stroke-width="1.0"/>
<text x="542" y="415" font-size="9.3" text-anchor="end" letter-spacing="-0.43">0.0</text>
<line x1="546" y1="411.5" x2="667.9" y2="411.5" stroke="#333333" stroke-width="1.0"/>
<line x1="561.6" y1="411.4" x2="561.6" y2="414.4" stroke="#333333" stroke-width="1.0"/>
<line x1="584.2" y1="411.4" x2="584.2" y2="414.4" stroke="#333333" stroke-width="1.0"/>
<line x1="606.8" y1="411.4" x2="606.8" y2="414.4" stroke="#333333" stroke-width="1.0"/>
<line x1="629.5" y1="411.4" x2="629.5" y2="414.4" stroke="#333333" stroke-width="1.0"/>
<line x1="652.1" y1="411.4" x2="652.1" y2="414.4" stroke="#333333" stroke-width="1.0"/>
<text transform="translate(525.5,370.5) rotate(-90)" x="0" y="0" font-size="10.0" text-anchor="middle" textLength="80.9" lengthAdjust="spacingAndGlyphs">GAG [ug/ug DNA]</text>
<line x1="561.6" y1="392.8" x2="561.6" y2="399.8" stroke="#6a6a6a" stroke-width="1.3"/>
<line x1="557.75" y1="392.8" x2="565.45" y2="392.8" stroke="#232323" stroke-width="1.1"/>
<rect x="554.51" y="399.8" width="14.19" height="8.9" fill="#7b7b7b" stroke="#232323" stroke-width="1.2"/>
<line x1="554.51" y1="405.1" x2="568.69" y2="405.1" stroke="#232323" stroke-width="1.2"/>
<line x1="584.2" y1="377.2" x2="584.2" y2="385.4" stroke="#ef8a3a" stroke-width="1.3"/>
<line x1="580.35" y1="377.2" x2="588.05" y2="377.2" stroke="#ee8737" stroke-width="1.1"/>
<line x1="584.2" y1="395.6" x2="584.2" y2="400.2" stroke="#ef8a3a" stroke-width="1.3"/>
<line x1="580.35" y1="400.2" x2="588.05" y2="400.2" stroke="#ee8737" stroke-width="1.1"/>
<rect x="577.11" y="385.4" width="14.19" height="10.2" fill="#f3b27e" stroke="#ee8737" stroke-width="1.2"/>
<line x1="577.11" y1="393" x2="591.29" y2="393" stroke="#ee8737" stroke-width="1.2"/>
<line x1="606.8" y1="391.8" x2="606.8" y2="400.2" stroke="#3a9a9a" stroke-width="1.3"/>
<line x1="602.95" y1="391.8" x2="610.65" y2="391.8" stroke="#1d8b8b" stroke-width="1.1"/>
<line x1="606.8" y1="408.7" x2="606.8" y2="411.4" stroke="#3a9a9a" stroke-width="1.3"/>
<line x1="602.95" y1="411.4" x2="610.65" y2="411.4" stroke="#1d8b8b" stroke-width="1.1"/>
<rect x="599.71" y="400.2" width="14.19" height="8.5" fill="#77b4b4" stroke="#1d8b8b" stroke-width="1.2"/>
<line x1="599.71" y1="403.2" x2="613.89" y2="403.2" stroke="#1d8b8b" stroke-width="1.2"/>
<line x1="629.5" y1="366.4" x2="629.5" y2="379.1" stroke="#6a52a0" stroke-width="1.3"/>
<line x1="625.65" y1="366.4" x2="633.35" y2="366.4" stroke="#5b3f8f" stroke-width="1.1"/>
<line x1="629.5" y1="392.8" x2="629.5" y2="405.1" stroke="#6a52a0" stroke-width="1.3"/>
<line x1="625.65" y1="405.1" x2="633.35" y2="405.1" stroke="#5b3f8f" stroke-width="1.1"/>
<rect x="622.41" y="379.1" width="14.19" height="13.7" fill="#8c76ae" stroke="#5b3f8f" stroke-width="1.2"/>
<line x1="622.41" y1="384" x2="636.59" y2="384" stroke="#5b3f8f" stroke-width="1.2"/>
<line x1="652.1" y1="385.4" x2="652.1" y2="394.9" stroke="#a28bc4" stroke-width="1.3"/>
<line x1="648.25" y1="385.4" x2="655.95" y2="385.4" stroke="#967bba" stroke-width="1.1"/>
<rect x="645.01" y="394.9" width="14.19" height="16.1" fill="#b9a6cd" stroke="#967bba" stroke-width="1.2"/>
<line x1="645.01" y1="406.1" x2="659.19" y2="406.1" stroke="#967bba" stroke-width="1.2"/>
<path d="M561.5,387.5 V358.5 H584.5 V371.9" fill="none" stroke="#333333" stroke-width="1"/>
<text x="572.9" y="355.55" font-size="6.8" text-anchor="middle" letter-spacing="-0.17" style="stroke-width:0.2px">P = 0.0036</text>
<path d="M606.5,387.1 V357.5 H629.5 V362.8" fill="none" stroke="#333333" stroke-width="1"/>
<text x="618.15" y="355.55" font-size="6.8" text-anchor="middle" letter-spacing="-0.17" style="stroke-width:0.2px">P &lt; 0.0001</text>
<path d="M629.5,347 V341.5 H652.5 V380.8" fill="none" stroke="#333333" stroke-width="1"/>
<text x="640.8" y="340.35" font-size="6.8" text-anchor="middle" letter-spacing="-0.17" style="stroke-width:0.2px">P = 0.0005</text>
<path d="M606.5,347 V326.5 H652.5 V331.2" fill="none" stroke="#333333" stroke-width="1"/>
<text x="629.45" y="324.55" font-size="6.8" text-anchor="middle" letter-spacing="-0.17" style="stroke-width:0.2px">P &gt; 0.9999</text>
<text x="517.6" y="421.3" font-size="6.8" text-anchor="start" letter-spacing="-0.1" style="stroke-width:0.2px">Recipient</text>
<text x="517.6" y="432.7" font-size="6.8" text-anchor="start" letter-spacing="-0.1" style="stroke-width:0.2px">Donor BM</text>
<text x="561.6" y="421.3" font-size="6.8" text-anchor="middle" letter-spacing="-0.1" style="stroke-width:0.2px">+/+</text>
<text x="561.6" y="437.6" font-size="6.8" text-anchor="middle" letter-spacing="-0.1" style="stroke-width:0.2px">(N=14)</text>
<text x="584.2" y="421.3" font-size="6.8" text-anchor="middle" letter-spacing="-0.1" style="stroke-width:0.2px">S153P</text>
<text x="584.2" y="437.6" font-size="6.8" text-anchor="middle" letter-spacing="-0.1" style="stroke-width:0.2px">(N=14)</text>
<text x="606.8" y="421.3" font-size="6.8" text-anchor="middle" letter-spacing="-0.1" style="stroke-width:0.2px">+/+</text>
<text x="606.8" y="429.5" font-size="6.8" text-anchor="middle" letter-spacing="-0.1" style="stroke-width:0.2px">+/+</text>
<text x="606.8" y="437.6" font-size="6.8" text-anchor="middle" letter-spacing="-0.1" style="stroke-width:0.2px">(N=16)</text>
<text x="629.5" y="421.3" font-size="6.8" text-anchor="middle" letter-spacing="-0.1" style="stroke-width:0.2px">S153P</text>
<text x="629.5" y="429.5" font-size="6.8" text-anchor="middle" letter-spacing="-0.1" style="stroke-width:0.2px">S153P</text>
<text x="629.5" y="437.6" font-size="6.8" text-anchor="middle" letter-spacing="-0.1" style="stroke-width:0.2px">(N=16)</text>
<text x="652.1" y="421.3" font-size="6.8" text-anchor="middle" letter-spacing="-0.1" style="stroke-width:0.2px">S153P</text>
<text x="652.1" y="429.5" font-size="6.8" text-anchor="middle" letter-spacing="-0.1" style="stroke-width:0.2px">+/+</text>
<text x="652.1" y="437.6" font-size="6.8" text-anchor="middle" letter-spacing="-0.1" style="stroke-width:0.2px">(N=12)</text>
<text x="29.2" y="459.26" font-size="12.2" text-anchor="start" font-weight="bold" letter-spacing="-0.4" style="stroke-width:0.0px">(m)</text>
<line x1="55.5" y1="467.2" x2="55.5" y2="549" stroke="#333333" stroke-width="1.0"/>
<line x1="52.1" y1="467.5" x2="55.5" y2="467.5" stroke="#333333" stroke-width="1.0"/>
<text x="51" y="471.3" font-size="9.3" text-anchor="end" letter-spacing="-0.43">300</text>
<line x1="52.1" y1="494.5" x2="55.5" y2="494.5" stroke="#333333" stroke-width="1.0"/>
<text x="51" y="498.4" font-size="9.3" text-anchor="end" letter-spacing="-0.43">200</text>
<line x1="52.1" y1="521.5" x2="55.5" y2="521.5" stroke="#333333" stroke-width="1.0"/>
<text x="51" y="525.4" font-size="9.3" text-anchor="end" letter-spacing="-0.43">100</text>
<line x1="52.1" y1="548.5" x2="55.5" y2="548.5" stroke="#333333" stroke-width="1.0"/>
<text x="51" y="552.4" font-size="9.3" text-anchor="end" letter-spacing="-0.43">0</text>
<line x1="55" y1="548.5" x2="178.6" y2="548.5" stroke="#333333" stroke-width="1.0"/>
<line x1="71.5" y1="548.8" x2="71.5" y2="551.8" stroke="#333333" stroke-width="1.0"/>
<line x1="94.6" y1="548.8" x2="94.6" y2="551.8" stroke="#333333" stroke-width="1.0"/>
<line x1="117.3" y1="548.8" x2="117.3" y2="551.8" stroke="#333333" stroke-width="1.0"/>
<line x1="140.1" y1="548.8" x2="140.1" y2="551.8" stroke="#333333" stroke-width="1.0"/>
<line x1="162.8" y1="548.8" x2="162.8" y2="551.8" stroke="#333333" stroke-width="1.0"/>
<text transform="translate(34,507.4) rotate(-90)" x="0" y="0" font-size="10.0" text-anchor="middle" textLength="57.8" lengthAdjust="spacingAndGlyphs">%WT Activity</text>
<line x1="71.5" y1="511.1" x2="71.5" y2="519.4" stroke="#6a6a6a" stroke-width="1.3"/>
<line x1="67.62" y1="511.1" x2="75.38" y2="511.1" stroke="#232323" stroke-width="1.1"/>
<line x1="71.5" y1="524.6" x2="71.5" y2="533.1" stroke="#6a6a6a" stroke-width="1.3"/>
<line x1="67.62" y1="533.1" x2="75.38" y2="533.1" stroke="#232323" stroke-width="1.1"/>
<rect x="64.34" y="519.4" width="14.32" height="5.2" fill="#7b7b7b" stroke="#232323" stroke-width="1.2"/>
<line x1="64.34" y1="521.9" x2="78.66" y2="521.9" stroke="#232323" stroke-width="1.2"/>
<line x1="94.6" y1="537.8" x2="94.6" y2="540.9" stroke="#ef8a3a" stroke-width="1.3"/>
<line x1="90.72" y1="537.8" x2="98.48" y2="537.8" stroke="#ee8737" stroke-width="1.1"/>
<line x1="94.6" y1="544.4" x2="94.6" y2="546.4" stroke="#ef8a3a" stroke-width="1.3"/>
<line x1="90.72" y1="546.4" x2="98.48" y2="546.4" stroke="#ee8737" stroke-width="1.1"/>
<rect x="87.44" y="540.9" width="14.32" height="3.5" fill="#f3b27e" stroke="#ee8737" stroke-width="1.2"/>
<line x1="87.44" y1="542.7" x2="101.76" y2="542.7" stroke="#ee8737" stroke-width="1.2"/>
<line x1="117.3" y1="511.6" x2="117.3" y2="517.5" stroke="#3a9a9a" stroke-width="1.3"/>
<line x1="113.42" y1="511.6" x2="121.18" y2="511.6" stroke="#1d8b8b" stroke-width="1.1"/>
<line x1="117.3" y1="527.6" x2="117.3" y2="532.3" stroke="#3a9a9a" stroke-width="1.3"/>
<line x1="113.42" y1="532.3" x2="121.18" y2="532.3" stroke="#1d8b8b" stroke-width="1.1"/>
<rect x="110.14" y="517.5" width="14.32" height="10.1" fill="#77b4b4" stroke="#1d8b8b" stroke-width="1.2"/>
<line x1="110.14" y1="523.4" x2="124.46" y2="523.4" stroke="#1d8b8b" stroke-width="1.2"/>
<line x1="140.1" y1="538.5" x2="140.1" y2="541.8" stroke="#6a52a0" stroke-width="1.3"/>
<line x1="136.22" y1="538.5" x2="143.98" y2="538.5" stroke="#5b3f8f" stroke-width="1.1"/>
<line x1="140.1" y1="545.8" x2="140.1" y2="547.4" stroke="#6a52a0" stroke-width="1.3"/>
<line x1="136.22" y1="547.4" x2="143.98" y2="547.4" stroke="#5b3f8f" stroke-width="1.1"/>
<rect x="132.94" y="541.8" width="14.32" height="4" fill="#8c76ae" stroke="#5b3f8f" stroke-width="1.2"/>
<line x1="132.94" y1="543.8" x2="147.26" y2="543.8" stroke="#5b3f8f" stroke-width="1.2"/>
<line x1="162.8" y1="520.7" x2="162.8" y2="533.3" stroke="#a28bc4" stroke-width="1.3"/>
<line x1="158.92" y1="520.7" x2="166.68" y2="520.7" stroke="#967bba" stroke-width="1.1"/>
<line x1="162.8" y1="545.8" x2="162.8" y2="548.3" stroke="#a28bc4" stroke-width="1.3"/>
<line x1="158.92" y1="548.3" x2="166.68" y2="548.3" stroke="#967bba" stroke-width="1.1"/>
<rect x="155.64" y="533.3" width="14.32" height="12.5" fill="#b9a6cd" stroke="#967bba" stroke-width="1.2"/>
<line x1="155.64" y1="543.2" x2="169.96" y2="543.2" stroke="#967bba" stroke-width="1.2"/>
<path d="M71.5,505.8 V501.5 H94.5 V533" fill="none" stroke="#333333" stroke-width="1"/>
<text x="83.05" y="499.65" font-size="6.8" text-anchor="middle" letter-spacing="-0.17" style="stroke-width:0.2px">&lt;0.0001</text>
<path d="M117.5,506.6 V485.5 H140.5 V489.8" fill="none" stroke="#333333" stroke-width="1"/>
<text x="128.7" y="484.35" font-size="6.8" text-anchor="middle" letter-spacing="-0.17" style="stroke-width:0.2px">&lt;0.0001</text>
<path d="M140.5,533.9 V501.5 H162.5 V516.1" fill="none" stroke="#333333" stroke-width="1"/>
<text x="151.45" y="499.75" font-size="6.8" text-anchor="middle" letter-spacing="-0.17" style="stroke-width:0.2px">&gt;0.9999</text>
<path d="M117.5,474.6 V470.5 H162.5 V489.8" fill="none" stroke="#333333" stroke-width="1"/>
<text x="140.05" y="468.55" font-size="6.8" text-anchor="middle" letter-spacing="-0.17" style="stroke-width:0.2px">0.0002</text>
<text x="26.1" y="559.7" font-size="6.8" text-anchor="start" letter-spacing="-0.1" style="stroke-width:0.2px">Recipient</text>
<text x="26.1" y="570.4" font-size="6.8" text-anchor="start" letter-spacing="-0.1" style="stroke-width:0.2px">Donor BM</text>
<text x="71.5" y="559.7" font-size="6.8" text-anchor="middle" letter-spacing="-0.1" style="stroke-width:0.2px">+/+</text>
<text x="71.5" y="574.6" font-size="6.8" text-anchor="middle" letter-spacing="-0.1" style="stroke-width:0.2px">(N=16)</text>
<text x="94.6" y="559.7" font-size="6.8" text-anchor="middle" letter-spacing="-0.1" style="stroke-width:0.2px">S153P</text>
<text x="94.6" y="574.6" font-size="6.8" text-anchor="middle" letter-spacing="-0.1" style="stroke-width:0.2px">(N=15)</text>
<text x="117.3" y="559.7" font-size="6.8" text-anchor="middle" letter-spacing="-0.1" style="stroke-width:0.2px">+/+</text>
<text x="117.3" y="566.9" font-size="6.8" text-anchor="middle" letter-spacing="-0.1" style="stroke-width:0.2px">+/+</text>
<text x="117.3" y="574.6" font-size="6.8" text-anchor="middle" letter-spacing="-0.1" style="stroke-width:0.2px">(N=16)</text>
<text x="140.1" y="559.7" font-size="6.8" text-anchor="middle" letter-spacing="-0.1" style="stroke-width:0.2px">S153P</text>
<text x="140.1" y="566.9" font-size="6.8" text-anchor="middle" letter-spacing="-0.1" style="stroke-width:0.2px">S153P</text>
<text x="140.1" y="574.6" font-size="6.8" text-anchor="middle" letter-spacing="-0.1" style="stroke-width:0.2px">(N=16)</text>
<text x="162.8" y="559.7" font-size="6.8" text-anchor="middle" letter-spacing="-0.1" style="stroke-width:0.2px">S153P</text>
<text x="162.8" y="566.9" font-size="6.8" text-anchor="middle" letter-spacing="-0.1" style="stroke-width:0.2px">+/+</text>
<text x="162.8" y="574.6" font-size="6.8" text-anchor="middle" letter-spacing="-0.1" style="stroke-width:0.2px">(N=14)</text>
<text x="195.3" y="459.26" font-size="12.2" text-anchor="start" font-weight="bold" letter-spacing="-0.4" style="stroke-width:0.0px">(n)</text>
<line x1="222.5" y1="468.8" x2="222.5" y2="550" stroke="#333333" stroke-width="1.0"/>
<line x1="219.1" y1="469.5" x2="222.5" y2="469.5" stroke="#333333" stroke-width="1.0"/>
<text x="218" y="472.9" font-size="9.3" text-anchor="end" letter-spacing="-0.43">300</text>
<line x1="219.1" y1="496.5" x2="222.5" y2="496.5" stroke="#333333" stroke-width="1.0"/>
<text x="218" y="499.6" font-size="9.3" text-anchor="end" letter-spacing="-0.43">200</text>
<line x1="219.1" y1="522.5" x2="222.5" y2="522.5" stroke="#333333" stroke-width="1.0"/>
<text x="218" y="526.3" font-size="9.3" text-anchor="end" letter-spacing="-0.43">100</text>
<line x1="219.1" y1="549.5" x2="222.5" y2="549.5" stroke="#333333" stroke-width="1.0"/>
<text x="218" y="553" font-size="9.3" text-anchor="end" letter-spacing="-0.43">0</text>
<line x1="222" y1="549.5" x2="342.1" y2="549.5" stroke="#333333" stroke-width="1.0"/>
<line x1="237.3" y1="549.4" x2="237.3" y2="552.4" stroke="#333333" stroke-width="1.0"/>
<line x1="259.8" y1="549.4" x2="259.8" y2="552.4" stroke="#333333" stroke-width="1.0"/>
<line x1="282.4" y1="549.4" x2="282.4" y2="552.4" stroke="#333333" stroke-width="1.0"/>
<line x1="305" y1="549.4" x2="305" y2="552.4" stroke="#333333" stroke-width="1.0"/>
<line x1="327.4" y1="549.4" x2="327.4" y2="552.4" stroke="#333333" stroke-width="1.0"/>
<text transform="translate(199.5,508.4) rotate(-90)" x="0" y="0" font-size="10.0" text-anchor="middle" textLength="62.1" lengthAdjust="spacingAndGlyphs">% WT Activity</text>
<line x1="237.3" y1="512.3" x2="237.3" y2="518.4" stroke="#6a6a6a" stroke-width="1.3"/>
<line x1="233.47" y1="512.3" x2="241.13" y2="512.3" stroke="#232323" stroke-width="1.1"/>
<line x1="237.3" y1="526.6" x2="237.3" y2="536.6" stroke="#6a6a6a" stroke-width="1.3"/>
<line x1="233.47" y1="536.6" x2="241.13" y2="536.6" stroke="#232323" stroke-width="1.1"/>
<rect x="230.24" y="518.4" width="14.12" height="8.2" fill="#7b7b7b" stroke="#232323" stroke-width="1.2"/>
<line x1="230.24" y1="522.9" x2="244.36" y2="522.9" stroke="#232323" stroke-width="1.2"/>
<rect x="252.14" y="548.2" width="15.32" height="1.2" fill="#ee8737" opacity="0.8"/>
<rect x="255.97" y="547.4" width="7.66" height="1.0" fill="#ee8737" opacity="0.7"/>
<line x1="282.4" y1="516.4" x2="282.4" y2="522.5" stroke="#3a9a9a" stroke-width="1.3"/>
<line x1="278.57" y1="516.4" x2="286.23" y2="516.4" stroke="#1d8b8b" stroke-width="1.1"/>
<line x1="282.4" y1="528" x2="282.4" y2="532.1" stroke="#3a9a9a" stroke-width="1.3"/>
<line x1="278.57" y1="532.1" x2="286.23" y2="532.1" stroke="#1d8b8b" stroke-width="1.1"/>
<rect x="275.34" y="522.5" width="14.12" height="5.5" fill="#77b4b4" stroke="#1d8b8b" stroke-width="1.2"/>
<line x1="275.34" y1="525" x2="289.46" y2="525" stroke="#1d8b8b" stroke-width="1.2"/>
<rect x="297.34" y="548" width="15.32" height="1.2" fill="#5b3f8f" opacity="0.8"/>
<rect x="301.17" y="547.2" width="7.66" height="1.0" fill="#5b3f8f" opacity="0.7"/>
<rect x="319.74" y="548.4" width="15.32" height="1.2" fill="#967bba" opacity="0.8"/>
<rect x="323.57" y="547.6" width="7.66" height="1.0" fill="#967bba" opacity="0.7"/>
<path d="M237.5,506.5 V501.5 H259.5 V543.3" fill="none" stroke="#333333" stroke-width="1"/>
<text x="248.55" y="501.25" font-size="6.8" text-anchor="middle" letter-spacing="-0.17" style="stroke-width:0.2px">0.0027</text>
<path d="M282.5,511 V487.5 H304.5 V491.8" fill="none" stroke="#333333" stroke-width="1"/>
<text x="293.7" y="485.45" font-size="6.8" text-anchor="middle" letter-spacing="-0.17" style="stroke-width:0.2px">0.0142</text>
<path d="M304.5,542.9 V502.5 H327.5 V542.9" fill="none" stroke="#333333" stroke-width="1"/>
<text x="316.2" y="500.75" font-size="6.8" text-anchor="middle" letter-spacing="-0.17" style="stroke-width:0.2px">&gt;0.9999</text>
<path d="M282.5,475.9 V471.5 H327.5 V491.8" fill="none" stroke="#333333" stroke-width="1"/>
<text x="304.9" y="469.95" font-size="6.8" text-anchor="middle" letter-spacing="-0.17" style="stroke-width:0.2px">0.0148</text>
<text x="194.3" y="559.9" font-size="6.8" text-anchor="start" letter-spacing="-0.1" style="stroke-width:0.2px">Recipient</text>
<text x="194.3" y="570.8" font-size="6.8" text-anchor="start" letter-spacing="-0.1" style="stroke-width:0.2px">Donor BM</text>
<text x="237.3" y="559.9" font-size="6.8" text-anchor="middle" letter-spacing="-0.1" style="stroke-width:0.2px">+/+</text>
<text x="237.3" y="575" font-size="6.8" text-anchor="middle" letter-spacing="-0.1" style="stroke-width:0.2px">(N=8)</text>
<text x="259.8" y="559.9" font-size="6.8" text-anchor="middle" letter-spacing="-0.1" style="stroke-width:0.2px">S153P</text>
<text x="259.8" y="575" font-size="6.8" text-anchor="middle" letter-spacing="-0.1" style="stroke-width:0.2px">(N=8)</text>
<text x="282.4" y="559.9" font-size="6.8" text-anchor="middle" letter-spacing="-0.1" style="stroke-width:0.2px">+/+</text>
<text x="282.4" y="566.9" font-size="6.8" text-anchor="middle" letter-spacing="-0.1" style="stroke-width:0.2px">+/+</text>
<text x="282.4" y="575" font-size="6.8" text-anchor="middle" letter-spacing="-0.1" style="stroke-width:0.2px">(N=7)</text>
<text x="305" y="559.9" font-size="6.8" text-anchor="middle" letter-spacing="-0.1" style="stroke-width:0.2px">S153P</text>
<text x="305" y="566.9" font-size="6.8" text-anchor="middle" letter-spacing="-0.1" style="stroke-width:0.2px">S153P</text>
<text x="305" y="575" font-size="6.8" text-anchor="middle" letter-spacing="-0.1" style="stroke-width:0.2px">(N=8)</text>
<text x="327.4" y="559.9" font-size="6.8" text-anchor="middle" letter-spacing="-0.1" style="stroke-width:0.2px">S153P</text>
<text x="327.4" y="566.9" font-size="6.8" text-anchor="middle" letter-spacing="-0.1" style="stroke-width:0.2px">+/+</text>
<text x="327.4" y="575" font-size="6.8" text-anchor="middle" letter-spacing="-0.1" style="stroke-width:0.2px">(N=5)</text>
<text x="356.4" y="459.26" font-size="12.2" text-anchor="start" font-weight="bold" letter-spacing="-0.4" style="stroke-width:0.0px">(o)</text>
<line x1="387.5" y1="471.3" x2="387.5" y2="552" stroke="#333333" stroke-width="1.0"/>
<line x1="384.1" y1="471.5" x2="387.5" y2="471.5" stroke="#333333" stroke-width="1.0"/>
<text x="382.9" y="475.4" font-size="9.3" text-anchor="end" letter-spacing="-0.43">400</text>
<line x1="384.1" y1="491.5" x2="387.5" y2="491.5" stroke="#333333" stroke-width="1.0"/>
<text x="382.9" y="495.2" font-size="9.3" text-anchor="end" letter-spacing="-0.43">300</text>
<line x1="384.1" y1="511.5" x2="387.5" y2="511.5" stroke="#333333" stroke-width="1.0"/>
<text x="382.9" y="515.1" font-size="9.3" text-anchor="end" letter-spacing="-0.43">200</text>
<line x1="384.1" y1="531.5" x2="387.5" y2="531.5" stroke="#333333" stroke-width="1.0"/>
<text x="382.9" y="534.9" font-size="9.3" text-anchor="end" letter-spacing="-0.43">100</text>
<line x1="384.1" y1="551.5" x2="387.5" y2="551.5" stroke="#333333" stroke-width="1.0"/>
<text x="382.9" y="554.7" font-size="9.3" text-anchor="end" letter-spacing="-0.43">0</text>
<line x1="387" y1="551.5" x2="507.1" y2="551.5" stroke="#333333" stroke-width="1.0"/>
<line x1="402.7" y1="551.1" x2="402.7" y2="554.1" stroke="#333333" stroke-width="1.0"/>
<line x1="424.8" y1="551.1" x2="424.8" y2="554.1" stroke="#333333" stroke-width="1.0"/>
<line x1="446.8" y1="551.1" x2="446.8" y2="554.1" stroke="#333333" stroke-width="1.0"/>
<line x1="469.4" y1="551.1" x2="469.4" y2="554.1" stroke="#333333" stroke-width="1.0"/>
<line x1="491.4" y1="551.1" x2="491.4" y2="554.1" stroke="#333333" stroke-width="1.0"/>
<text transform="translate(363.6,509.9) rotate(-90)" x="0" y="0" font-size="10.0" text-anchor="middle" textLength="61.1" lengthAdjust="spacingAndGlyphs">% WT Activity</text>
<line x1="402.7" y1="508.6" x2="402.7" y2="528" stroke="#6a6a6a" stroke-width="1.3"/>
<line x1="398.93" y1="508.6" x2="406.47" y2="508.6" stroke="#232323" stroke-width="1.1"/>
<line x1="402.7" y1="535.2" x2="402.7" y2="544.8" stroke="#6a6a6a" stroke-width="1.3"/>
<line x1="398.93" y1="544.8" x2="406.47" y2="544.8" stroke="#232323" stroke-width="1.1"/>
<rect x="395.76" y="528" width="13.88" height="7.2" fill="#7b7b7b" stroke="#232323" stroke-width="1.2"/>
<line x1="395.76" y1="530.7" x2="409.64" y2="530.7" stroke="#232323" stroke-width="1.2"/>
<line x1="424.8" y1="537.6" x2="424.8" y2="542.7" stroke="#ef8a3a" stroke-width="1.3"/>
<line x1="421.03" y1="537.6" x2="428.57" y2="537.6" stroke="#ee8737" stroke-width="1.1"/>
<line x1="424.8" y1="546.4" x2="424.8" y2="548.5" stroke="#ef8a3a" stroke-width="1.3"/>
<line x1="421.03" y1="548.5" x2="428.57" y2="548.5" stroke="#ee8737" stroke-width="1.1"/>
<rect x="417.86" y="542.7" width="13.88" height="3.7" fill="#f3b27e" stroke="#ee8737" stroke-width="1.2"/>
<line x1="417.86" y1="544.8" x2="431.74" y2="544.8" stroke="#ee8737" stroke-width="1.2"/>
<line x1="446.8" y1="523.5" x2="446.8" y2="525.4" stroke="#3a9a9a" stroke-width="1.3"/>
<line x1="443.03" y1="523.5" x2="450.57" y2="523.5" stroke="#1d8b8b" stroke-width="1.1"/>
<line x1="446.8" y1="539.7" x2="446.8" y2="551" stroke="#3a9a9a" stroke-width="1.3"/>
<line x1="443.03" y1="551" x2="450.57" y2="551" stroke="#1d8b8b" stroke-width="1.1"/>
<rect x="439.86" y="525.4" width="13.88" height="14.3" fill="#77b4b4" stroke="#1d8b8b" stroke-width="1.2"/>
<line x1="439.86" y1="529" x2="453.74" y2="529" stroke="#1d8b8b" stroke-width="1.2"/>
<line x1="469.4" y1="544.3" x2="469.4" y2="546.3" stroke="#6a52a0" stroke-width="1.3"/>
<line x1="465.63" y1="544.3" x2="473.17" y2="544.3" stroke="#5b3f8f" stroke-width="1.1"/>
<line x1="469.4" y1="547.7" x2="469.4" y2="550.4" stroke="#6a52a0" stroke-width="1.3"/>
<line x1="465.63" y1="550.4" x2="473.17" y2="550.4" stroke="#5b3f8f" stroke-width="1.1"/>
<rect x="462.46" y="546.3" width="13.88" height="1.4" fill="#8c76ae" stroke="#5b3f8f" stroke-width="1.2"/>
<line x1="462.46" y1="547" x2="476.34" y2="547" stroke="#5b3f8f" stroke-width="1.2"/>
<line x1="491.4" y1="526.3" x2="491.4" y2="537.1" stroke="#a28bc4" stroke-width="1.3"/>
<line x1="487.63" y1="526.3" x2="495.17" y2="526.3" stroke="#967bba" stroke-width="1.1"/>
<line x1="491.4" y1="548.4" x2="491.4" y2="550.4" stroke="#a28bc4" stroke-width="1.3"/>
<line x1="487.63" y1="550.4" x2="495.17" y2="550.4" stroke="#967bba" stroke-width="1.1"/>
<rect x="484.46" y="537.1" width="13.88" height="11.3" fill="#b9a6cd" stroke="#967bba" stroke-width="1.2"/>
<line x1="484.46" y1="541.2" x2="498.34" y2="541.2" stroke="#967bba" stroke-width="1.2"/>
<path d="M402.5,504.5 V499.5 H424.5 V533.1" fill="none" stroke="#333333" stroke-width="1"/>
<text x="413.75" y="498.15" font-size="6.8" text-anchor="middle" letter-spacing="-0.17" style="stroke-width:0.2px">0.0027</text>
<path d="M446.5,518.8 V484.5 H469.5 V488.5" fill="none" stroke="#333333" stroke-width="1"/>
<text x="458.1" y="482.15" font-size="6.8" text-anchor="middle" letter-spacing="-0.17" style="stroke-width:0.2px">&lt;0.0001</text>
<path d="M469.5,539.2 V499.5 H491.5 V520.8" fill="none" stroke="#333333" stroke-width="1"/>
<text x="480.4" y="497.75" font-size="6.8" text-anchor="middle" letter-spacing="-0.17" style="stroke-width:0.2px">0.1850</text>
<path d="M446.5,473.4 V468.5 H491.5 V488.5" fill="none" stroke="#333333" stroke-width="1"/>
<text x="469.1" y="467.45" font-size="6.8" text-anchor="middle" letter-spacing="-0.17" style="stroke-width:0.2px">0.0318</text>
<text x="358.4" y="560.7" font-size="6.8" text-anchor="start" letter-spacing="-0.1" style="stroke-width:0.2px">Recipient</text>
<text x="358.4" y="571.4" font-size="6.8" text-anchor="start" letter-spacing="-0.1" style="stroke-width:0.2px">Donor BM</text>
<text x="402.7" y="560.7" font-size="6.8" text-anchor="middle" letter-spacing="-0.1" style="stroke-width:0.2px">+/+</text>
<text x="402.7" y="576.3" font-size="6.8" text-anchor="middle" letter-spacing="-0.1" style="stroke-width:0.2px">(N=16)</text>
<text x="424.8" y="560.7" font-size="6.8" text-anchor="middle" letter-spacing="-0.1" style="stroke-width:0.2px">S153P</text>
<text x="424.8" y="576.3" font-size="6.8" text-anchor="middle" letter-spacing="-0.1" style="stroke-width:0.2px">(N=15)</text>
<text x="446.8" y="560.7" font-size="6.8" text-anchor="middle" letter-spacing="-0.1" style="stroke-width:0.2px">+/+</text>
<text x="446.8" y="567.7" font-size="6.8" text-anchor="middle" letter-spacing="-0.1" style="stroke-width:0.2px">+/+</text>
<text x="446.8" y="576.3" font-size="6.8" text-anchor="middle" letter-spacing="-0.1" style="stroke-width:0.2px">(N=15)</text>
<text x="469.4" y="560.7" font-size="6.8" text-anchor="middle" letter-spacing="-0.1" style="stroke-width:0.2px">S153P</text>
<text x="469.4" y="567.7" font-size="6.8" text-anchor="middle" letter-spacing="-0.1" style="stroke-width:0.2px">S153P</text>
<text x="469.4" y="576.3" font-size="6.8" text-anchor="middle" letter-spacing="-0.1" style="stroke-width:0.2px">(N=15)</text>
<text x="491.4" y="560.7" font-size="6.8" text-anchor="middle" letter-spacing="-0.1" style="stroke-width:0.2px">S153P</text>
<text x="491.4" y="567.7" font-size="6.8" text-anchor="middle" letter-spacing="-0.1" style="stroke-width:0.2px">+/+</text>
<text x="491.4" y="576.3" font-size="6.8" text-anchor="middle" letter-spacing="-0.1" style="stroke-width:0.2px">(N=13)</text>
<text x="521.6" y="459.26" font-size="12.2" text-anchor="start" font-weight="bold" letter-spacing="-0.4" style="stroke-width:0.0px">(p)</text>
<line x1="552.5" y1="472.7" x2="552.5" y2="552" stroke="#333333" stroke-width="1.0"/>
<line x1="549.1" y1="473.5" x2="552.5" y2="473.5" stroke="#333333" stroke-width="1.0"/>
<text x="547.8" y="476.8" font-size="9.3" text-anchor="end" letter-spacing="-0.43">2.0</text>
<line x1="549.1" y1="492.5" x2="552.5" y2="492.5" stroke="#333333" stroke-width="1.0"/>
<text x="547.8" y="496.3" font-size="9.3" text-anchor="end" letter-spacing="-0.43">1.5</text>
<line x1="549.1" y1="512.5" x2="552.5" y2="512.5" stroke="#333333" stroke-width="1.0"/>
<text x="547.8" y="515.8" font-size="9.3" text-anchor="end" letter-spacing="-0.43">1.0</text>
<line x1="549.1" y1="531.5" x2="552.5" y2="531.5" stroke="#333333" stroke-width="1.0"/>
<text x="547.8" y="535.2" font-size="9.3" text-anchor="end" letter-spacing="-0.43">0.5</text>
<line x1="549.1" y1="551.5" x2="552.5" y2="551.5" stroke="#333333" stroke-width="1.0"/>
<text x="547.8" y="554.7" font-size="9.3" text-anchor="end" letter-spacing="-0.43">0.0</text>
<line x1="552" y1="551.5" x2="669.5" y2="551.5" stroke="#333333" stroke-width="1.0"/>
<line x1="566.3" y1="551.1" x2="566.3" y2="554.1" stroke="#333333" stroke-width="1.0"/>
<line x1="588.5" y1="551.1" x2="588.5" y2="554.1" stroke="#333333" stroke-width="1.0"/>
<line x1="610.4" y1="551.1" x2="610.4" y2="554.1" stroke="#333333" stroke-width="1.0"/>
<line x1="632.2" y1="551.1" x2="632.2" y2="554.1" stroke="#333333" stroke-width="1.0"/>
<line x1="654.3" y1="551.1" x2="654.3" y2="554.1" stroke="#333333" stroke-width="1.0"/>
<text transform="translate(532.3,511.8) rotate(-90)" x="0" y="0" font-size="10.0" text-anchor="middle" textLength="79.1" lengthAdjust="spacingAndGlyphs">GAG [ug/ug DNA]</text>
<line x1="566.3" y1="532.7" x2="566.3" y2="539.3" stroke="#6a6a6a" stroke-width="1.3"/>
<line x1="562.56" y1="532.7" x2="570.04" y2="532.7" stroke="#232323" stroke-width="1.1"/>
<line x1="566.3" y1="547" x2="566.3" y2="547.9" stroke="#6a6a6a" stroke-width="1.3"/>
<line x1="562.56" y1="547.9" x2="570.04" y2="547.9" stroke="#232323" stroke-width="1.1"/>
<rect x="559.42" y="539.3" width="13.76" height="7.7" fill="#7b7b7b" stroke="#232323" stroke-width="1.2"/>
<line x1="559.42" y1="542.7" x2="573.18" y2="542.7" stroke="#232323" stroke-width="1.2"/>
<line x1="588.5" y1="498.4" x2="588.5" y2="528" stroke="#ef8a3a" stroke-width="1.3"/>
<line x1="584.76" y1="498.4" x2="592.24" y2="498.4" stroke="#ee8737" stroke-width="1.1"/>
<line x1="588.5" y1="535.2" x2="588.5" y2="547" stroke="#ef8a3a" stroke-width="1.3"/>
<line x1="584.76" y1="547" x2="592.24" y2="547" stroke="#ee8737" stroke-width="1.1"/>
<rect x="581.62" y="528" width="13.76" height="7.2" fill="#f3b27e" stroke="#ee8737" stroke-width="1.2"/>
<line x1="581.62" y1="532.1" x2="595.38" y2="532.1" stroke="#ee8737" stroke-width="1.2"/>
<line x1="610.4" y1="529.6" x2="610.4" y2="537.2" stroke="#3a9a9a" stroke-width="1.3"/>
<line x1="606.66" y1="529.6" x2="614.14" y2="529.6" stroke="#1d8b8b" stroke-width="1.1"/>
<line x1="610.4" y1="543.8" x2="610.4" y2="549.5" stroke="#3a9a9a" stroke-width="1.3"/>
<line x1="606.66" y1="549.5" x2="614.14" y2="549.5" stroke="#1d8b8b" stroke-width="1.1"/>
<rect x="603.52" y="537.2" width="13.76" height="6.6" fill="#77b4b4" stroke="#1d8b8b" stroke-width="1.2"/>
<line x1="603.52" y1="541.4" x2="617.28" y2="541.4" stroke="#1d8b8b" stroke-width="1.2"/>
<line x1="632.2" y1="490.2" x2="632.2" y2="513.3" stroke="#6a52a0" stroke-width="1.3"/>
<line x1="628.46" y1="490.2" x2="635.94" y2="490.2" stroke="#5b3f8f" stroke-width="1.1"/>
<line x1="632.2" y1="533.5" x2="632.2" y2="541.3" stroke="#6a52a0" stroke-width="1.3"/>
<line x1="628.46" y1="541.3" x2="635.94" y2="541.3" stroke="#5b3f8f" stroke-width="1.1"/>
<rect x="625.32" y="513.3" width="13.76" height="20.2" fill="#8c76ae" stroke="#5b3f8f" stroke-width="1.2"/>
<line x1="625.32" y1="527.6" x2="639.08" y2="527.6" stroke="#5b3f8f" stroke-width="1.2"/>
<line x1="654.3" y1="522.5" x2="654.3" y2="527" stroke="#a28bc4" stroke-width="1.3"/>
<line x1="650.56" y1="522.5" x2="658.04" y2="522.5" stroke="#967bba" stroke-width="1.1"/>
<line x1="654.3" y1="544.8" x2="654.3" y2="546.4" stroke="#a28bc4" stroke-width="1.3"/>
<line x1="650.56" y1="546.4" x2="658.04" y2="546.4" stroke="#967bba" stroke-width="1.1"/>
<rect x="647.42" y="527" width="13.76" height="17.8" fill="#b9a6cd" stroke="#967bba" stroke-width="1.2"/>
<line x1="647.42" y1="534.6" x2="661.18" y2="534.6" stroke="#967bba" stroke-width="1.2"/>
<path d="M566.5,526 V481.5 H588.5 V494.3" fill="none" stroke="#333333" stroke-width="1"/>
<text x="577.4" y="479.75" font-size="6.8" text-anchor="middle" letter-spacing="-0.17" style="stroke-width:0.2px">0.0110</text>
<path d="M610.5,525 V466.5 H632.5 V470.8" fill="none" stroke="#333333" stroke-width="1"/>
<text x="621.3" y="464.45" font-size="6.8" text-anchor="middle" letter-spacing="-0.17" style="stroke-width:0.2px">0.0005</text>
<path d="M632.5,485.7 V480.5 H654.5 V517.8" fill="none" stroke="#333333" stroke-width="1"/>
<text x="643.25" y="479.35" font-size="6.8" text-anchor="middle" letter-spacing="-0.17" style="stroke-width:0.2px">0.2945</text>
<path d="M610.5,455.4 V451.5 H654.5 V470.8" fill="none" stroke="#333333" stroke-width="1"/>
<text x="632.35" y="449.75" font-size="6.8" text-anchor="middle" letter-spacing="-0.17" style="stroke-width:0.2px">0.2676</text>
<text x="526" y="561" font-size="6.8" text-anchor="start" letter-spacing="-0.1" style="stroke-width:0.2px">Recipient</text>
<text x="526" y="572.2" font-size="6.8" text-anchor="start" letter-spacing="-0.1" style="stroke-width:0.2px">Donor BM</text>
<text x="566.3" y="561" font-size="6.8" text-anchor="middle" letter-spacing="-0.1" style="stroke-width:0.2px">+/+</text>
<text x="566.3" y="576.3" font-size="6.8" text-anchor="middle" letter-spacing="-0.1" style="stroke-width:0.2px">(N=16)</text>
<text x="588.5" y="561" font-size="6.8" text-anchor="middle" letter-spacing="-0.1" style="stroke-width:0.2px">S153P</text>
<text x="588.5" y="576.3" font-size="6.8" text-anchor="middle" letter-spacing="-0.1" style="stroke-width:0.2px">(N=15)</text>
<text x="610.4" y="561" font-size="6.8" text-anchor="middle" letter-spacing="-0.1" style="stroke-width:0.2px">+/+</text>
<text x="610.4" y="568.2" font-size="6.8" text-anchor="middle" letter-spacing="-0.1" style="stroke-width:0.2px">+/+</text>
<text x="610.4" y="576.3" font-size="6.8" text-anchor="middle" letter-spacing="-0.1" style="stroke-width:0.2px">(N=16)</text>
<text x="632.2" y="561" font-size="6.8" text-anchor="middle" letter-spacing="-0.1" style="stroke-width:0.2px">S153P</text>
<text x="632.2" y="568.2" font-size="6.8" text-anchor="middle" letter-spacing="-0.1" style="stroke-width:0.2px">S153P</text>
<text x="632.2" y="576.3" font-size="6.8" text-anchor="middle" letter-spacing="-0.1" style="stroke-width:0.2px">(N=16)</text>
<text x="654.3" y="561" font-size="6.8" text-anchor="middle" letter-spacing="-0.1" style="stroke-width:0.2px">S153P</text>
<text x="654.3" y="568.2" font-size="6.8" text-anchor="middle" letter-spacing="-0.1" style="stroke-width:0.2px">+/+</text>
<text x="654.3" y="576.3" font-size="6.8" text-anchor="middle" letter-spacing="-0.1" style="stroke-width:0.2px">(N=12)</text>
<text x="27.1" y="604.16" font-size="12.2" text-anchor="start" font-weight="bold" letter-spacing="-0.4" style="stroke-width:0.0px">(q)</text>
<line x1="54.5" y1="626.9" x2="54.5" y2="705" stroke="#333333" stroke-width="1.0"/>
<line x1="51.1" y1="627.5" x2="54.5" y2="627.5" stroke="#333333" stroke-width="1.0"/>
<text x="49.5" y="631" font-size="9.3" text-anchor="end" letter-spacing="-0.43">300</text>
<line x1="51.1" y1="653.5" x2="54.5" y2="653.5" stroke="#333333" stroke-width="1.0"/>
<text x="49.5" y="656.7" font-size="9.3" text-anchor="end" letter-spacing="-0.43">200</text>
<line x1="51.1" y1="678.5" x2="54.5" y2="678.5" stroke="#333333" stroke-width="1.0"/>
<text x="49.5" y="682.3" font-size="9.3" text-anchor="end" letter-spacing="-0.43">100</text>
<line x1="51.1" y1="704.5" x2="54.5" y2="704.5" stroke="#333333" stroke-width="1.0"/>
<text x="49.5" y="708" font-size="9.3" text-anchor="end" letter-spacing="-0.43">0</text>
<line x1="54" y1="704.5" x2="171.8" y2="704.5" stroke="#333333" stroke-width="1.0"/>
<line x1="69.4" y1="704.4" x2="69.4" y2="707.4" stroke="#333333" stroke-width="1.0"/>
<line x1="91.5" y1="704.4" x2="91.5" y2="707.4" stroke="#333333" stroke-width="1.0"/>
<line x1="112.9" y1="704.4" x2="112.9" y2="707.4" stroke="#333333" stroke-width="1.0"/>
<line x1="134.5" y1="704.4" x2="134.5" y2="707.4" stroke="#333333" stroke-width="1.0"/>
<line x1="156.5" y1="704.4" x2="156.5" y2="707.4" stroke="#333333" stroke-width="1.0"/>
<text transform="translate(33.3,666.3) rotate(-90)" x="0" y="0" font-size="10.0" text-anchor="middle" textLength="56.2" lengthAdjust="spacingAndGlyphs">%WT Activity</text>
<line x1="69.4" y1="648.2" x2="69.4" y2="675.3" stroke="#6a6a6a" stroke-width="1.3"/>
<line x1="65.7" y1="648.2" x2="73.1" y2="648.2" stroke="#232323" stroke-width="1.1"/>
<line x1="69.4" y1="681.5" x2="69.4" y2="694.7" stroke="#6a6a6a" stroke-width="1.3"/>
<line x1="65.7" y1="694.7" x2="73.1" y2="694.7" stroke="#232323" stroke-width="1.1"/>
<rect x="62.6" y="675.3" width="13.61" height="6.2" fill="#7b7b7b" stroke="#232323" stroke-width="1.2"/>
<line x1="62.6" y1="678.5" x2="76.2" y2="678.5" stroke="#232323" stroke-width="1.2"/>
<line x1="91.5" y1="691.9" x2="91.5" y2="696.9" stroke="#ef8a3a" stroke-width="1.3"/>
<line x1="87.8" y1="691.9" x2="95.2" y2="691.9" stroke="#ee8737" stroke-width="1.1"/>
<line x1="91.5" y1="699.5" x2="91.5" y2="701.2" stroke="#ef8a3a" stroke-width="1.3"/>
<line x1="87.8" y1="701.2" x2="95.2" y2="701.2" stroke="#ee8737" stroke-width="1.1"/>
<rect x="84.7" y="696.9" width="13.61" height="2.6" fill="#f3b27e" stroke="#ee8737" stroke-width="1.2"/>
<line x1="84.7" y1="698.4" x2="98.3" y2="698.4" stroke="#ee8737" stroke-width="1.2"/>
<line x1="112.9" y1="669.4" x2="112.9" y2="684.1" stroke="#3a9a9a" stroke-width="1.3"/>
<line x1="109.2" y1="669.4" x2="116.6" y2="669.4" stroke="#1d8b8b" stroke-width="1.1"/>
<line x1="112.9" y1="693.9" x2="112.9" y2="698.8" stroke="#3a9a9a" stroke-width="1.3"/>
<line x1="109.2" y1="698.8" x2="116.6" y2="698.8" stroke="#1d8b8b" stroke-width="1.1"/>
<rect x="106.1" y="684.1" width="13.61" height="9.8" fill="#77b4b4" stroke="#1d8b8b" stroke-width="1.2"/>
<line x1="106.1" y1="690" x2="119.7" y2="690" stroke="#1d8b8b" stroke-width="1.2"/>
<line x1="134.5" y1="686.5" x2="134.5" y2="693.3" stroke="#6a52a0" stroke-width="1.3"/>
<line x1="130.8" y1="686.5" x2="138.2" y2="686.5" stroke="#5b3f8f" stroke-width="1.1"/>
<line x1="134.5" y1="699.2" x2="134.5" y2="702.2" stroke="#6a52a0" stroke-width="1.3"/>
<line x1="130.8" y1="702.2" x2="138.2" y2="702.2" stroke="#5b3f8f" stroke-width="1.1"/>
<rect x="127.7" y="693.3" width="13.61" height="5.9" fill="#8c76ae" stroke="#5b3f8f" stroke-width="1.2"/>
<line x1="127.7" y1="697.3" x2="141.3" y2="697.3" stroke="#5b3f8f" stroke-width="1.2"/>
<line x1="156.5" y1="682.2" x2="156.5" y2="694.3" stroke="#a28bc4" stroke-width="1.3"/>
<line x1="152.8" y1="682.2" x2="160.2" y2="682.2" stroke="#967bba" stroke-width="1.1"/>
<line x1="156.5" y1="699.8" x2="156.5" y2="703.7" stroke="#a28bc4" stroke-width="1.3"/>
<line x1="152.8" y1="703.7" x2="160.2" y2="703.7" stroke="#967bba" stroke-width="1.1"/>
<rect x="149.7" y="694.3" width="13.61" height="5.5" fill="#b9a6cd" stroke="#967bba" stroke-width="1.2"/>
<line x1="149.7" y1="697.3" x2="163.3" y2="697.3" stroke="#967bba" stroke-width="1.2"/>
<path d="M69.5,642.8 V638.5 H91.5 V688.2" fill="none" stroke="#333333" stroke-width="1"/>
<text x="80.45" y="637.25" font-size="6.8" text-anchor="middle" letter-spacing="-0.17" style="stroke-width:0.2px">&lt;0.0001</text>
<path d="M112.5,664.5 V624.5 H134.5 V628.2" fill="none" stroke="#333333" stroke-width="1"/>
<text x="123.7" y="622.25" font-size="6.8" text-anchor="middle" letter-spacing="-0.17" style="stroke-width:0.2px">0.0423</text>
<path d="M134.5,681.2 V638.5 H156.5 V677.3" fill="none" stroke="#333333" stroke-width="1"/>
<text x="145.5" y="636.75" font-size="6.8" text-anchor="middle" letter-spacing="-0.17" style="stroke-width:0.2px">&gt;0.9999</text>
<path d="M112.5,613.5 V609.5 H156.5 V628.2" fill="none" stroke="#333333" stroke-width="1"/>
<text x="134.7" y="607.15" font-size="6.8" text-anchor="middle" letter-spacing="-0.17" style="stroke-width:0.2px">0.0119</text>
<text x="27.2" y="714.6" font-size="6.8" text-anchor="start" letter-spacing="-0.1" style="stroke-width:0.2px">Recipient</text>
<text x="27.2" y="725.6" font-size="6.8" text-anchor="start" letter-spacing="-0.1" style="stroke-width:0.2px">Donor BM</text>
<text x="69.4" y="714.6" font-size="6.8" text-anchor="middle" letter-spacing="-0.1" style="stroke-width:0.2px">+/+</text>
<text x="69.4" y="729.3" font-size="6.8" text-anchor="middle" letter-spacing="-0.1" style="stroke-width:0.2px">(N=16)</text>
<text x="91.5" y="714.6" font-size="6.8" text-anchor="middle" letter-spacing="-0.1" style="stroke-width:0.2px">S153P</text>
<text x="91.5" y="729.3" font-size="6.8" text-anchor="middle" letter-spacing="-0.1" style="stroke-width:0.2px">(N=13)</text>
<text x="112.9" y="714.6" font-size="6.8" text-anchor="middle" letter-spacing="-0.1" style="stroke-width:0.2px">+/+</text>
<text x="112.9" y="721.7" font-size="6.8" text-anchor="middle" letter-spacing="-0.1" style="stroke-width:0.2px">+/+</text>
<text x="112.9" y="729.3" font-size="6.8" text-anchor="middle" letter-spacing="-0.1" style="stroke-width:0.2px">(N=15)</text>
<text x="134.5" y="714.6" font-size="6.8" text-anchor="middle" letter-spacing="-0.1" style="stroke-width:0.2px">S153P</text>
<text x="134.5" y="721.7" font-size="6.8" text-anchor="middle" letter-spacing="-0.1" style="stroke-width:0.2px">S153P</text>
<text x="134.5" y="729.3" font-size="6.8" text-anchor="middle" letter-spacing="-0.1" style="stroke-width:0.2px">(N=16)</text>
<text x="156.5" y="714.6" font-size="6.8" text-anchor="middle" letter-spacing="-0.1" style="stroke-width:0.2px">S153P</text>
<text x="156.5" y="721.7" font-size="6.8" text-anchor="middle" letter-spacing="-0.1" style="stroke-width:0.2px">+/+</text>
<text x="156.5" y="729.3" font-size="6.8" text-anchor="middle" letter-spacing="-0.1" style="stroke-width:0.2px">(N=12)</text>
<text x="193.5" y="604.16" font-size="12.2" text-anchor="start" font-weight="bold" letter-spacing="-0.4" style="stroke-width:0.0px">(r)</text>
<line x1="220.5" y1="626.7" x2="220.5" y2="704" stroke="#333333" stroke-width="1.0"/>
<line x1="217.1" y1="627.5" x2="220.5" y2="627.5" stroke="#333333" stroke-width="1.0"/>
<text x="215.5" y="630.8" font-size="9.3" text-anchor="end" letter-spacing="-0.43">300</text>
<line x1="217.1" y1="652.5" x2="220.5" y2="652.5" stroke="#333333" stroke-width="1.0"/>
<text x="215.5" y="656.3" font-size="9.3" text-anchor="end" letter-spacing="-0.43">200</text>
<line x1="217.1" y1="678.5" x2="220.5" y2="678.5" stroke="#333333" stroke-width="1.0"/>
<text x="215.5" y="681.9" font-size="9.3" text-anchor="end" letter-spacing="-0.43">100</text>
<line x1="217.1" y1="703.5" x2="220.5" y2="703.5" stroke="#333333" stroke-width="1.0"/>
<text x="215.5" y="707.4" font-size="9.3" text-anchor="end" letter-spacing="-0.43">0</text>
<line x1="220" y1="703.5" x2="335.5" y2="703.5" stroke="#333333" stroke-width="1.0"/>
<line x1="235.2" y1="703.8" x2="235.2" y2="706.8" stroke="#333333" stroke-width="1.0"/>
<line x1="256.4" y1="703.8" x2="256.4" y2="706.8" stroke="#333333" stroke-width="1.0"/>
<line x1="277.9" y1="703.8" x2="277.9" y2="706.8" stroke="#333333" stroke-width="1.0"/>
<line x1="299.4" y1="703.8" x2="299.4" y2="706.8" stroke="#333333" stroke-width="1.0"/>
<line x1="320.8" y1="703.8" x2="320.8" y2="706.8" stroke="#333333" stroke-width="1.0"/>
<text transform="translate(198.1,664.1) rotate(-90)" x="0" y="0" font-size="10.0" text-anchor="middle" textLength="58.4" lengthAdjust="spacingAndGlyphs">% WT Activity</text>
<line x1="235.2" y1="652.4" x2="235.2" y2="666" stroke="#6a6a6a" stroke-width="1.3"/>
<line x1="231.56" y1="652.4" x2="238.84" y2="652.4" stroke="#232323" stroke-width="1.1"/>
<line x1="235.2" y1="688.5" x2="235.2" y2="701" stroke="#6a6a6a" stroke-width="1.3"/>
<line x1="231.56" y1="701" x2="238.84" y2="701" stroke="#232323" stroke-width="1.1"/>
<rect x="228.52" y="666" width="13.35" height="22.5" fill="#7b7b7b" stroke="#232323" stroke-width="1.2"/>
<line x1="228.52" y1="678.2" x2="241.88" y2="678.2" stroke="#232323" stroke-width="1.2"/>
<line x1="256.4" y1="688.5" x2="256.4" y2="696.8" stroke="#ef8a3a" stroke-width="1.3"/>
<line x1="252.76" y1="688.5" x2="260.04" y2="688.5" stroke="#ee8737" stroke-width="1.1"/>
<line x1="256.4" y1="703.3" x2="256.4" y2="703.8" stroke="#ef8a3a" stroke-width="1.3"/>
<line x1="252.76" y1="703.8" x2="260.04" y2="703.8" stroke="#ee8737" stroke-width="1.1"/>
<rect x="249.72" y="696.8" width="13.35" height="6.5" fill="#f3b27e" stroke="#ee8737" stroke-width="1.2"/>
<line x1="249.72" y1="699.6" x2="263.08" y2="699.6" stroke="#ee8737" stroke-width="1.2"/>
<line x1="277.9" y1="645.4" x2="277.9" y2="666" stroke="#3a9a9a" stroke-width="1.3"/>
<line x1="274.26" y1="645.4" x2="281.54" y2="645.4" stroke="#1d8b8b" stroke-width="1.1"/>
<line x1="277.9" y1="691.8" x2="277.9" y2="701.3" stroke="#3a9a9a" stroke-width="1.3"/>
<line x1="274.26" y1="701.3" x2="281.54" y2="701.3" stroke="#1d8b8b" stroke-width="1.1"/>
<rect x="271.22" y="666" width="13.35" height="25.8" fill="#77b4b4" stroke="#1d8b8b" stroke-width="1.2"/>
<line x1="271.22" y1="681.3" x2="284.58" y2="681.3" stroke="#1d8b8b" stroke-width="1.2"/>
<line x1="299.4" y1="690.2" x2="299.4" y2="697.6" stroke="#6a52a0" stroke-width="1.3"/>
<line x1="295.76" y1="690.2" x2="303.04" y2="690.2" stroke="#5b3f8f" stroke-width="1.1"/>
<line x1="299.4" y1="701.8" x2="299.4" y2="703.9" stroke="#6a52a0" stroke-width="1.3"/>
<line x1="295.76" y1="703.9" x2="303.04" y2="703.9" stroke="#5b3f8f" stroke-width="1.1"/>
<rect x="292.72" y="697.6" width="13.35" height="4.2" fill="#8c76ae" stroke="#5b3f8f" stroke-width="1.2"/>
<line x1="292.72" y1="699.7" x2="306.08" y2="699.7" stroke="#5b3f8f" stroke-width="1.2"/>
<line x1="320.8" y1="682.5" x2="320.8" y2="695.1" stroke="#a28bc4" stroke-width="1.3"/>
<line x1="317.16" y1="682.5" x2="324.44" y2="682.5" stroke="#967bba" stroke-width="1.1"/>
<line x1="320.8" y1="702.8" x2="320.8" y2="703.8" stroke="#a28bc4" stroke-width="1.3"/>
<line x1="317.16" y1="703.8" x2="324.44" y2="703.8" stroke="#967bba" stroke-width="1.1"/>
<rect x="314.12" y="695.1" width="13.35" height="7.7" fill="#b9a6cd" stroke="#967bba" stroke-width="1.2"/>
<line x1="314.12" y1="702.8" x2="327.48" y2="702.8" stroke="#967bba" stroke-width="1.2"/>
<path d="M235.5,647.5 V636.5 H256.5 V683.4" fill="none" stroke="#333333" stroke-width="1"/>
<text x="245.8" y="634.85" font-size="6.8" text-anchor="middle" letter-spacing="-0.17" style="stroke-width:0.2px">&lt;0.0001</text>
<path d="M277.5,640.8 V621.5 H299.5 V626.2" fill="none" stroke="#333333" stroke-width="1"/>
<text x="288.65" y="620.65" font-size="6.8" text-anchor="middle" letter-spacing="-0.17" style="stroke-width:0.2px">0.0004</text>
<path d="M299.5,686 V636.5 H320.5 V677" fill="none" stroke="#333333" stroke-width="1"/>
<text x="310.1" y="634.95" font-size="6.8" text-anchor="middle" letter-spacing="-0.17" style="stroke-width:0.2px">&gt;0.9999</text>
<path d="M277.5,611.5 V607.5 H320.5 V626.2" fill="none" stroke="#333333" stroke-width="1"/>
<text x="299.35" y="605.55" font-size="6.8" text-anchor="middle" letter-spacing="-0.17" style="stroke-width:0.2px">0.0003</text>
<text x="193.3" y="714.1" font-size="6.8" text-anchor="start" letter-spacing="-0.1" style="stroke-width:0.2px">Recipient</text>
<text x="193.3" y="724.5" font-size="6.8" text-anchor="start" letter-spacing="-0.1" style="stroke-width:0.2px">Donor BM</text>
<text x="235.2" y="714.1" font-size="6.8" text-anchor="middle" letter-spacing="-0.1" style="stroke-width:0.2px">+/+</text>
<text x="235.2" y="728.2" font-size="6.8" text-anchor="middle" letter-spacing="-0.1" style="stroke-width:0.2px">(N=8)</text>
<text x="256.4" y="714.1" font-size="6.8" text-anchor="middle" letter-spacing="-0.1" style="stroke-width:0.2px">S153P</text>
<text x="256.4" y="728.2" font-size="6.8" text-anchor="middle" letter-spacing="-0.1" style="stroke-width:0.2px">(N=8)</text>
<text x="277.9" y="714.1" font-size="6.8" text-anchor="middle" letter-spacing="-0.1" style="stroke-width:0.2px">+/+</text>
<text x="277.9" y="720.8" font-size="6.8" text-anchor="middle" letter-spacing="-0.1" style="stroke-width:0.2px">+/+</text>
<text x="277.9" y="728.2" font-size="6.8" text-anchor="middle" letter-spacing="-0.1" style="stroke-width:0.2px">(N=7)</text>
<text x="299.4" y="714.1" font-size="6.8" text-anchor="middle" letter-spacing="-0.1" style="stroke-width:0.2px">S153P</text>
<text x="299.4" y="720.8" font-size="6.8" text-anchor="middle" letter-spacing="-0.1" style="stroke-width:0.2px">S153P</text>
<text x="299.4" y="728.2" font-size="6.8" text-anchor="middle" letter-spacing="-0.1" style="stroke-width:0.2px">(N=8)</text>
<text x="320.8" y="714.1" font-size="6.8" text-anchor="middle" letter-spacing="-0.1" style="stroke-width:0.2px">S153P</text>
<text x="320.8" y="720.8" font-size="6.8" text-anchor="middle" letter-spacing="-0.1" style="stroke-width:0.2px">+/+</text>
<text x="320.8" y="728.2" font-size="6.8" text-anchor="middle" letter-spacing="-0.1" style="stroke-width:0.2px">(N=5)</text>
<text x="354.2" y="604.16" font-size="12.2" text-anchor="start" font-weight="bold" letter-spacing="-0.4" style="stroke-width:0.0px">(s)</text>
<line x1="389.5" y1="627.8" x2="389.5" y2="704" stroke="#333333" stroke-width="1.0"/>
<line x1="386.1" y1="628.5" x2="389.5" y2="628.5" stroke="#333333" stroke-width="1.0"/>
<text x="384.9" y="631.9" font-size="9.3" text-anchor="end" letter-spacing="-0.43">400</text>
<line x1="386.1" y1="647.5" x2="389.5" y2="647.5" stroke="#333333" stroke-width="1.0"/>
<text x="384.9" y="650.7" font-size="9.3" text-anchor="end" letter-spacing="-0.43">300</text>
<line x1="386.1" y1="665.5" x2="389.5" y2="665.5" stroke="#333333" stroke-width="1.0"/>
<text x="384.9" y="669.5" font-size="9.3" text-anchor="end" letter-spacing="-0.43">200</text>
<line x1="386.1" y1="684.5" x2="389.5" y2="684.5" stroke="#333333" stroke-width="1.0"/>
<text x="384.9" y="688.2" font-size="9.3" text-anchor="end" letter-spacing="-0.43">100</text>
<line x1="386.1" y1="703.5" x2="389.5" y2="703.5" stroke="#333333" stroke-width="1.0"/>
<text x="384.9" y="707" font-size="9.3" text-anchor="end" letter-spacing="-0.43">0</text>
<line x1="389" y1="703.5" x2="502.6" y2="703.5" stroke="#333333" stroke-width="1.0"/>
<line x1="403.8" y1="703.4" x2="403.8" y2="706.4" stroke="#333333" stroke-width="1.0"/>
<line x1="424.4" y1="703.4" x2="424.4" y2="706.4" stroke="#333333" stroke-width="1.0"/>
<line x1="445.9" y1="703.4" x2="445.9" y2="706.4" stroke="#333333" stroke-width="1.0"/>
<line x1="467" y1="703.4" x2="467" y2="706.4" stroke="#333333" stroke-width="1.0"/>
<line x1="488.4" y1="703.4" x2="488.4" y2="706.4" stroke="#333333" stroke-width="1.0"/>
<text transform="translate(367.1,664.1) rotate(-90)" x="0" y="0" font-size="10.0" text-anchor="middle" textLength="57.2" lengthAdjust="spacingAndGlyphs">% WT Activity</text>
<line x1="403.8" y1="681.8" x2="403.8" y2="684.3" stroke="#6a6a6a" stroke-width="1.3"/>
<line x1="400.2" y1="681.8" x2="407.4" y2="681.8" stroke="#232323" stroke-width="1.1"/>
<line x1="403.8" y1="693.8" x2="403.8" y2="698.6" stroke="#6a6a6a" stroke-width="1.3"/>
<line x1="400.2" y1="698.6" x2="407.4" y2="698.6" stroke="#232323" stroke-width="1.1"/>
<rect x="397.21" y="684.3" width="13.18" height="9.5" fill="#7b7b7b" stroke="#232323" stroke-width="1.2"/>
<line x1="397.21" y1="684.8" x2="410.39" y2="684.8" stroke="#232323" stroke-width="1.2"/>
<line x1="424.4" y1="698.6" x2="424.4" y2="701.1" stroke="#ef8a3a" stroke-width="1.3"/>
<line x1="420.8" y1="698.6" x2="428" y2="698.6" stroke="#ee8737" stroke-width="1.1"/>
<rect x="417.81" y="701.1" width="13.18" height="2.3" fill="#f3b27e" stroke="#ee8737" stroke-width="1.2"/>
<line x1="417.81" y1="702" x2="430.99" y2="702" stroke="#ee8737" stroke-width="1.2"/>
<line x1="445.9" y1="649.9" x2="445.9" y2="659.3" stroke="#3a9a9a" stroke-width="1.3"/>
<line x1="442.3" y1="649.9" x2="449.5" y2="649.9" stroke="#1d8b8b" stroke-width="1.1"/>
<line x1="445.9" y1="696.5" x2="445.9" y2="701.3" stroke="#3a9a9a" stroke-width="1.3"/>
<line x1="442.3" y1="701.3" x2="449.5" y2="701.3" stroke="#1d8b8b" stroke-width="1.1"/>
<rect x="439.31" y="659.3" width="13.18" height="37.2" fill="#77b4b4" stroke="#1d8b8b" stroke-width="1.2"/>
<line x1="439.31" y1="670.3" x2="452.49" y2="670.3" stroke="#1d8b8b" stroke-width="1.2"/>
<line x1="467" y1="701.4" x2="467" y2="701.9" stroke="#6a52a0" stroke-width="1.3"/>
<line x1="463.4" y1="701.4" x2="470.6" y2="701.4" stroke="#5b3f8f" stroke-width="1.1"/>
<rect x="460.41" y="701.9" width="13.18" height="1.1" fill="#8c76ae" stroke="#5b3f8f" stroke-width="1.2"/>
<line x1="460.41" y1="702.4" x2="473.59" y2="702.4" stroke="#5b3f8f" stroke-width="1.2"/>
<line x1="488.4" y1="680.8" x2="488.4" y2="695.1" stroke="#a28bc4" stroke-width="1.3"/>
<line x1="484.8" y1="680.8" x2="492" y2="680.8" stroke="#967bba" stroke-width="1.1"/>
<line x1="488.4" y1="702.8" x2="488.4" y2="703.4" stroke="#a28bc4" stroke-width="1.3"/>
<line x1="484.8" y1="703.4" x2="492" y2="703.4" stroke="#967bba" stroke-width="1.1"/>
<rect x="481.81" y="695.1" width="13.18" height="7.7" fill="#b9a6cd" stroke="#967bba" stroke-width="1.2"/>
<line x1="481.81" y1="700.1" x2="494.99" y2="700.1" stroke="#967bba" stroke-width="1.2"/>
<path d="M403.5,677 V640.5 H424.5 V694" fill="none" stroke="#333333" stroke-width="1"/>
<text x="414.1" y="638.45" font-size="6.8" text-anchor="middle" letter-spacing="-0.17" style="stroke-width:0.2px">0.0062</text>
<path d="M445.5,645.1 V624.5 H466.5 V629.8" fill="none" stroke="#333333" stroke-width="1"/>
<text x="456.45" y="622.35" font-size="6.8" text-anchor="middle" letter-spacing="-0.17" style="stroke-width:0.2px">0.0002</text>
<path d="M466.5,697.1 V640.5 H488.5 V676.4" fill="none" stroke="#333333" stroke-width="1"/>
<text x="477.7" y="638.45" font-size="6.8" text-anchor="middle" letter-spacing="-0.17" style="stroke-width:0.2px">0.7439</text>
<path d="M445.5,613.6 V609.5 H488.5 V629.8" fill="none" stroke="#333333" stroke-width="1"/>
<text x="467.15" y="606.55" font-size="6.8" text-anchor="middle" letter-spacing="-0.17" style="stroke-width:0.2px">0.0193</text>
<text x="361.3" y="713.9" font-size="6.8" text-anchor="start" letter-spacing="-0.1" style="stroke-width:0.2px">Recipient</text>
<text x="361.3" y="723.5" font-size="6.8" text-anchor="start" letter-spacing="-0.1" style="stroke-width:0.2px">Donor BM</text>
<text x="403.8" y="713.9" font-size="6.8" text-anchor="middle" letter-spacing="-0.1" style="stroke-width:0.2px">+/+</text>
<text x="403.8" y="727.3" font-size="6.8" text-anchor="middle" letter-spacing="-0.1" style="stroke-width:0.2px">(N=9)</text>
<text x="424.4" y="713.9" font-size="6.8" text-anchor="middle" letter-spacing="-0.1" style="stroke-width:0.2px">S153P</text>
<text x="424.4" y="727.3" font-size="6.8" text-anchor="middle" letter-spacing="-0.1" style="stroke-width:0.2px">(N=10)</text>
<text x="445.9" y="713.9" font-size="6.8" text-anchor="middle" letter-spacing="-0.1" style="stroke-width:0.2px">+/+</text>
<text x="445.9" y="720.8" font-size="6.8" text-anchor="middle" letter-spacing="-0.1" style="stroke-width:0.2px">+/+</text>
<text x="445.9" y="727.3" font-size="6.8" text-anchor="middle" letter-spacing="-0.1" style="stroke-width:0.2px">(N=11)</text>
<text x="467" y="713.9" font-size="6.8" text-anchor="middle" letter-spacing="-0.1" style="stroke-width:0.2px">S153P</text>
<text x="467" y="720.8" font-size="6.8" text-anchor="middle" letter-spacing="-0.1" style="stroke-width:0.2px">S153P</text>
<text x="467" y="727.3" font-size="6.8" text-anchor="middle" letter-spacing="-0.1" style="stroke-width:0.2px">(N=9)</text>
<text x="488.4" y="713.9" font-size="6.8" text-anchor="middle" letter-spacing="-0.1" style="stroke-width:0.2px">S153P</text>
<text x="488.4" y="720.8" font-size="6.8" text-anchor="middle" letter-spacing="-0.1" style="stroke-width:0.2px">+/+</text>
<text x="488.4" y="727.3" font-size="6.8" text-anchor="middle" letter-spacing="-0.1" style="stroke-width:0.2px">(N=10)</text>
<text x="519.4" y="604.16" font-size="12.2" text-anchor="start" font-weight="bold" letter-spacing="-0.4" style="stroke-width:0.0px">(t)</text>
<line x1="548.5" y1="625.3" x2="548.5" y2="704" stroke="#333333" stroke-width="1.0"/>
<line x1="545.1" y1="625.5" x2="548.5" y2="625.5" stroke="#333333" stroke-width="1.0"/>
<text x="543.4" y="629.4" font-size="9.3" text-anchor="end" letter-spacing="-0.43">2.0</text>
<line x1="545.1" y1="645.5" x2="548.5" y2="645.5" stroke="#333333" stroke-width="1.0"/>
<text x="543.4" y="648.8" font-size="9.3" text-anchor="end" letter-spacing="-0.43">1.5</text>
<line x1="545.1" y1="664.5" x2="548.5" y2="664.5" stroke="#333333" stroke-width="1.0"/>
<text x="543.4" y="668.2" font-size="9.3" text-anchor="end" letter-spacing="-0.43">1.0</text>
<line x1="545.1" y1="684.5" x2="548.5" y2="684.5" stroke="#333333" stroke-width="1.0"/>
<text x="543.4" y="687.6" font-size="9.3" text-anchor="end" letter-spacing="-0.43">0.5</text>
<line x1="545.1" y1="703.5" x2="548.5" y2="703.5" stroke="#333333" stroke-width="1.0"/>
<text x="543.4" y="707" font-size="9.3" text-anchor="end" letter-spacing="-0.43">0.0</text>
<line x1="548" y1="703.5" x2="664.8" y2="703.5" stroke="#333333" stroke-width="1.0"/>
<line x1="562.3" y1="703.4" x2="562.3" y2="706.4" stroke="#333333" stroke-width="1.0"/>
<line x1="584.2" y1="703.4" x2="584.2" y2="706.4" stroke="#333333" stroke-width="1.0"/>
<line x1="605.9" y1="703.4" x2="605.9" y2="706.4" stroke="#333333" stroke-width="1.0"/>
<line x1="627.5" y1="703.4" x2="627.5" y2="706.4" stroke="#333333" stroke-width="1.0"/>
<line x1="649.5" y1="703.4" x2="649.5" y2="706.4" stroke="#333333" stroke-width="1.0"/>
<text transform="translate(527.1,664.4) rotate(-90)" x="0" y="0" font-size="10.0" text-anchor="middle" textLength="79.1" lengthAdjust="spacingAndGlyphs">GAG [ug/ug DNA]</text>
<line x1="562.3" y1="680.8" x2="562.3" y2="691.7" stroke="#6a6a6a" stroke-width="1.3"/>
<line x1="558.59" y1="680.8" x2="566.01" y2="680.8" stroke="#232323" stroke-width="1.1"/>
<line x1="562.3" y1="699.2" x2="562.3" y2="700.3" stroke="#6a6a6a" stroke-width="1.3"/>
<line x1="558.59" y1="700.3" x2="566.01" y2="700.3" stroke="#232323" stroke-width="1.1"/>
<rect x="555.49" y="691.7" width="13.62" height="7.5" fill="#7b7b7b" stroke="#232323" stroke-width="1.2"/>
<line x1="555.49" y1="698" x2="569.11" y2="698" stroke="#232323" stroke-width="1.2"/>
<line x1="584.2" y1="646.5" x2="584.2" y2="666.5" stroke="#ef8a3a" stroke-width="1.3"/>
<line x1="580.49" y1="646.5" x2="587.91" y2="646.5" stroke="#ee8737" stroke-width="1.1"/>
<line x1="584.2" y1="681.4" x2="584.2" y2="689.2" stroke="#ef8a3a" stroke-width="1.3"/>
<line x1="580.49" y1="689.2" x2="587.91" y2="689.2" stroke="#ee8737" stroke-width="1.1"/>
<rect x="577.39" y="666.5" width="13.62" height="14.9" fill="#f3b27e" stroke="#ee8737" stroke-width="1.2"/>
<line x1="577.39" y1="679.1" x2="591.01" y2="679.1" stroke="#ee8737" stroke-width="1.2"/>
<line x1="605.9" y1="686.6" x2="605.9" y2="690.8" stroke="#3a9a9a" stroke-width="1.3"/>
<line x1="602.19" y1="686.6" x2="609.61" y2="686.6" stroke="#1d8b8b" stroke-width="1.1"/>
<line x1="605.9" y1="699.1" x2="605.9" y2="701.3" stroke="#3a9a9a" stroke-width="1.3"/>
<line x1="602.19" y1="701.3" x2="609.61" y2="701.3" stroke="#1d8b8b" stroke-width="1.1"/>
<rect x="599.09" y="690.8" width="13.62" height="8.3" fill="#77b4b4" stroke="#1d8b8b" stroke-width="1.2"/>
<line x1="599.09" y1="694.4" x2="612.71" y2="694.4" stroke="#1d8b8b" stroke-width="1.2"/>
<line x1="627.5" y1="644.7" x2="627.5" y2="661.2" stroke="#6a52a0" stroke-width="1.3"/>
<line x1="623.79" y1="644.7" x2="631.21" y2="644.7" stroke="#5b3f8f" stroke-width="1.1"/>
<line x1="627.5" y1="676.1" x2="627.5" y2="685" stroke="#6a52a0" stroke-width="1.3"/>
<line x1="623.79" y1="685" x2="631.21" y2="685" stroke="#5b3f8f" stroke-width="1.1"/>
<rect x="620.69" y="661.2" width="13.62" height="14.9" fill="#8c76ae" stroke="#5b3f8f" stroke-width="1.2"/>
<line x1="620.69" y1="664.6" x2="634.31" y2="664.6" stroke="#5b3f8f" stroke-width="1.2"/>
<line x1="649.5" y1="636.3" x2="649.5" y2="646.5" stroke="#a28bc4" stroke-width="1.3"/>
<line x1="645.79" y1="636.3" x2="653.21" y2="636.3" stroke="#967bba" stroke-width="1.1"/>
<line x1="649.5" y1="687.1" x2="649.5" y2="699" stroke="#a28bc4" stroke-width="1.3"/>
<line x1="645.79" y1="699" x2="653.21" y2="699" stroke="#967bba" stroke-width="1.1"/>
<rect x="642.69" y="646.5" width="13.62" height="40.6" fill="#b9a6cd" stroke="#967bba" stroke-width="1.2"/>
<line x1="642.69" y1="683.3" x2="656.31" y2="683.3" stroke="#967bba" stroke-width="1.2"/>
<path d="M562.5,676.1 V627.5 H584.5 V641.5" fill="none" stroke="#333333" stroke-width="1"/>
<text x="573.25" y="625.85" font-size="6.8" text-anchor="middle" letter-spacing="-0.17" style="stroke-width:0.2px">0.0003</text>
<path d="M605.5,681.8 V612.5 H627.5 V616.7" fill="none" stroke="#333333" stroke-width="1"/>
<text x="616.7" y="610.55" font-size="6.8" text-anchor="middle" letter-spacing="-0.17" style="stroke-width:0.2px">&lt;0.0001</text>
<path d="M627.5,639.4 V627.5 H649.5 V631.4" fill="none" stroke="#333333" stroke-width="1"/>
<text x="638.5" y="625.85" font-size="6.8" text-anchor="middle" letter-spacing="-0.17" style="stroke-width:0.2px">0.2517</text>
<path d="M605.5,601.7 V597.5 H649.5 V616.7" fill="none" stroke="#333333" stroke-width="1"/>
<text x="627.7" y="595.85" font-size="6.8" text-anchor="middle" letter-spacing="-0.17" style="stroke-width:0.2px">0.0028</text>
<text x="521.3" y="713.9" font-size="6.8" text-anchor="start" letter-spacing="-0.1" style="stroke-width:0.2px">Recipient</text>
<text x="521.3" y="724.6" font-size="6.8" text-anchor="start" letter-spacing="-0.1" style="stroke-width:0.2px">Donor BM</text>
<text x="562.3" y="713.9" font-size="6.8" text-anchor="middle" letter-spacing="-0.1" style="stroke-width:0.2px">+/+</text>
<text x="562.3" y="727.7" font-size="6.8" text-anchor="middle" letter-spacing="-0.1" style="stroke-width:0.2px">(N=16)</text>
<text x="584.2" y="713.9" font-size="6.8" text-anchor="middle" letter-spacing="-0.1" style="stroke-width:0.2px">S153P</text>
<text x="584.2" y="727.7" font-size="6.8" text-anchor="middle" letter-spacing="-0.1" style="stroke-width:0.2px">(N=15)</text>
<text x="605.9" y="713.9" font-size="6.8" text-anchor="middle" letter-spacing="-0.1" style="stroke-width:0.2px">+/+</text>
<text x="605.9" y="720.6" font-size="6.8" text-anchor="middle" letter-spacing="-0.1" style="stroke-width:0.2px">+/+</text>
<text x="605.9" y="727.7" font-size="6.8" text-anchor="middle" letter-spacing="-0.1" style="stroke-width:0.2px">(N=16)</text>
<text x="627.5" y="713.9" font-size="6.8" text-anchor="middle" letter-spacing="-0.1" style="stroke-width:0.2px">S153P</text>
<text x="627.5" y="720.6" font-size="6.8" text-anchor="middle" letter-spacing="-0.1" style="stroke-width:0.2px">S153P</text>
<text x="627.5" y="727.7" font-size="6.8" text-anchor="middle" letter-spacing="-0.1" style="stroke-width:0.2px">(N=15)</text>
<text x="649.5" y="713.9" font-size="6.8" text-anchor="middle" letter-spacing="-0.1" style="stroke-width:0.2px">S153P</text>
<text x="649.5" y="720.6" font-size="6.8" text-anchor="middle" letter-spacing="-0.1" style="stroke-width:0.2px">+/+</text>
<text x="649.5" y="727.7" font-size="6.8" text-anchor="middle" letter-spacing="-0.1" style="stroke-width:0.2px">(N=15)</text>
</g>
</svg></body></html>
